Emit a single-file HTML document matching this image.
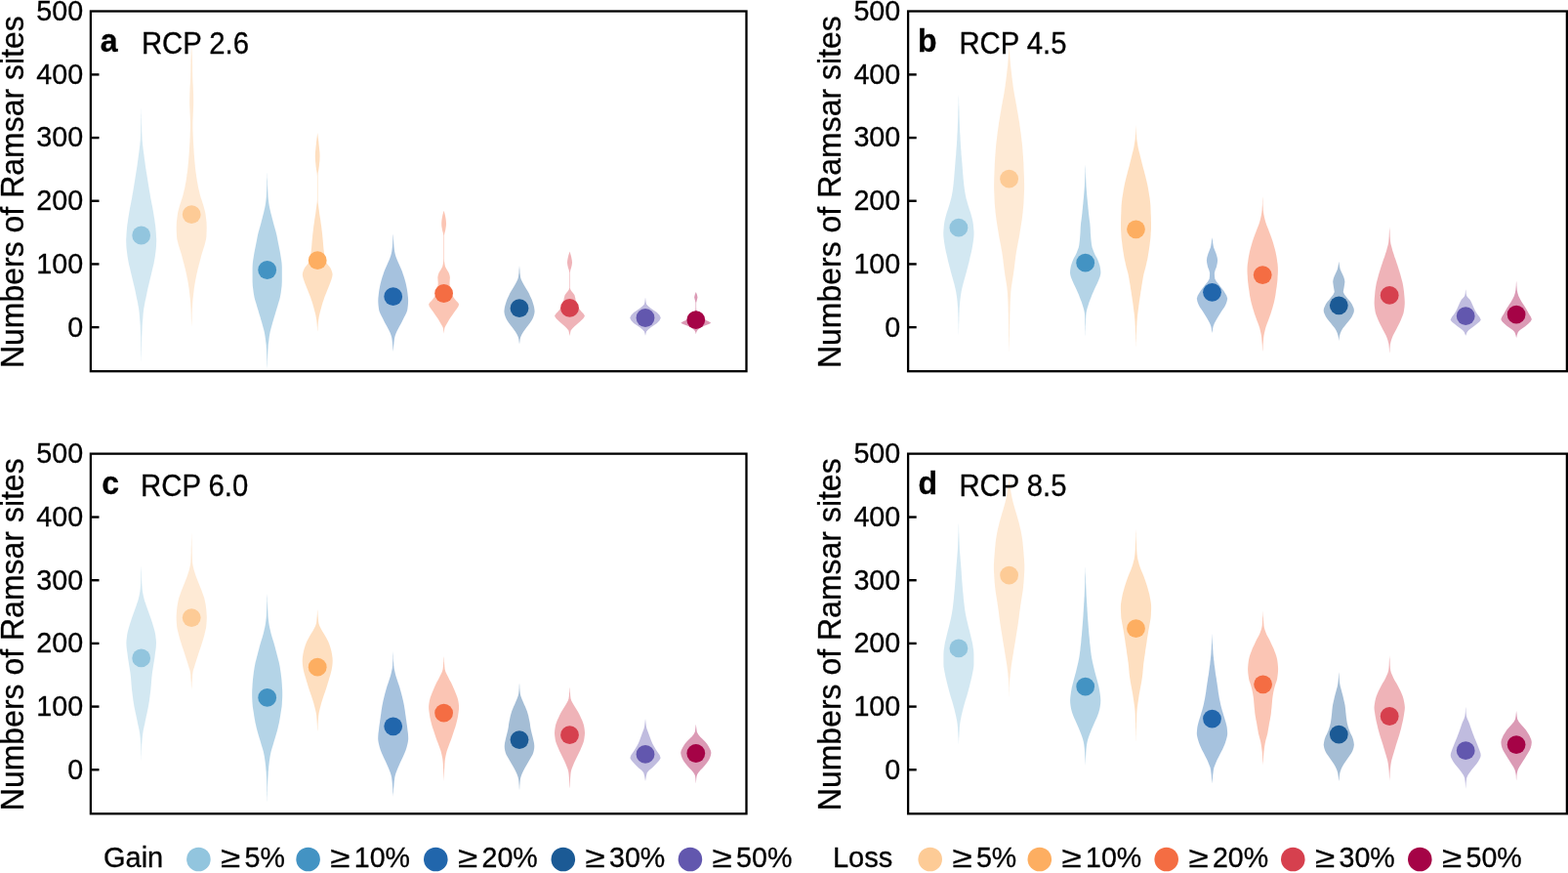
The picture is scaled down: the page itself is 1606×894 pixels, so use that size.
<!DOCTYPE html>
<html lang="en"><head><meta charset="utf-8">
<title>Numbers of Ramsar sites under RCP scenarios</title>
<style>
html,body{margin:0;padding:0;background:#fff;}
body{width:1606px;height:894px;overflow:hidden;}
svg{display:block;}
text{font-family:'Liberation Sans', Arial, Helvetica, sans-serif;fill:#000;stroke:#000;stroke-width:0.3px;}
.tk{font-size:29px;text-anchor:end;}
.yl{font-size:32px;text-anchor:middle;}
.pl{font-size:32px;font-weight:bold;}
.pt{font-size:29px;}
.lg{font-size:29px;}
.fr{fill:none;stroke:#000;stroke-width:2.3;stroke-linejoin:miter;}
.tm{stroke:#000;stroke-width:2.4;stroke-linecap:butt;}
</style></head><body>
<svg width="1606" height="894" viewBox="0 0 1606 894">
<rect x="0" y="0" width="1606" height="894" fill="#fff"/>
<g id="panel-a">
<path d="M144.7,110.5 L144.8,113 L144.8,115.5 L144.9,118 L144.9,120.6 L145,123.1 L145,125.6 L145.1,128.1 L145.2,130.6 L145.2,133.1 L145.3,135.7 L145.4,138.2 L145.5,140.7 L145.6,143.2 L145.9,145.7 L146.1,148.2 L146.4,150.8 L146.7,153.3 L147,155.8 L147.4,158.3 L147.7,160.8 L148,163.3 L148.4,165.8 L148.7,168.3 L149.1,170.9 L149.5,173.4 L149.9,175.9 L150.3,178.4 L150.7,180.9 L151.1,183.4 L151.5,185.9 L151.9,188.4 L152.3,190.9 L152.7,193.5 L153.1,196 L153.6,198.5 L154,201 L154.4,203.4 L154.9,205.8 L155.3,208.1 L155.8,210.5 L156.3,212.9 L156.7,215.2 L157.1,217.6 L157.5,220 L157.9,222.5 L158.3,225 L158.6,227.5 L159,230 L159.3,232.5 L159.5,235 L159.7,237.4 L159.9,239.8 L160,242.2 L160.2,244.6 L160.2,247 L160.1,249.5 L160,252 L159.8,254.5 L159.5,257 L159.2,259.5 L158.9,262 L158.5,264.6 L158,267.3 L157.5,269.9 L156.9,272.6 L156.2,275.2 L155.6,277.9 L155,280.5 L154.4,283 L153.8,285.6 L153.2,288.1 L152.6,290.6 L152,293.1 L151.4,295.6 L150.8,298.2 L150.3,300.7 L149.8,303.2 L149.3,305.7 L148.7,308.2 L148.2,310.8 L147.8,313.3 L147.3,315.8 L147,318.3 L146.7,320.8 L146.5,323.3 L146.3,325.9 L146.1,328.4 L145.9,330.9 L145.7,333.4 L145.6,335.9 L145.5,338.5 L145.4,341 L145.3,343.5 L145.2,346 L145.2,348.5 L145.1,351 L145.1,353.5 L145,356 L145,358.5 L144.9,361 L144.9,363.5 L144.8,366 L144.8,368.5 L144.7,371 L144.7,371 L144.6,368.5 L144.6,366 L144.5,363.5 L144.5,361 L144.4,358.5 L144.4,356 L144.3,353.5 L144.3,351 L144.2,348.5 L144.2,346 L144.1,343.5 L144,341 L143.9,338.5 L143.8,335.9 L143.7,333.4 L143.5,330.9 L143.3,328.4 L143.1,325.9 L142.9,323.3 L142.7,320.8 L142.4,318.3 L142.1,315.8 L141.6,313.3 L141.2,310.8 L140.7,308.2 L140.1,305.7 L139.6,303.2 L139.1,300.7 L138.6,298.2 L138,295.6 L137.4,293.1 L136.8,290.6 L136.2,288.1 L135.6,285.6 L135,283 L134.4,280.5 L133.8,277.9 L133.2,275.2 L132.5,272.6 L131.9,269.9 L131.4,267.3 L130.9,264.6 L130.5,262 L130.2,259.5 L129.9,257 L129.6,254.5 L129.4,252 L129.3,249.5 L129.2,247 L129.2,244.6 L129.4,242.2 L129.5,239.8 L129.7,237.4 L129.9,235 L130.1,232.5 L130.4,230 L130.8,227.5 L131.1,225 L131.5,222.5 L131.9,220 L132.3,217.6 L132.7,215.2 L133.1,212.9 L133.6,210.5 L134.1,208.1 L134.5,205.8 L135,203.4 L135.4,201 L135.8,198.5 L136.3,196 L136.7,193.5 L137.1,190.9 L137.5,188.4 L137.9,185.9 L138.3,183.4 L138.7,180.9 L139.1,178.4 L139.5,175.9 L139.9,173.4 L140.3,170.9 L140.7,168.3 L141,165.8 L141.4,163.3 L141.7,160.8 L142,158.3 L142.4,155.8 L142.7,153.3 L143,150.8 L143.3,148.2 L143.5,145.7 L143.8,143.2 L143.9,140.7 L144,138.2 L144.1,135.7 L144.2,133.1 L144.2,130.6 L144.3,128.1 L144.4,125.6 L144.4,123.1 L144.5,120.6 L144.5,118 L144.6,115.5 L144.6,113 L144.7,110.5Z" fill="#92c5de" fill-opacity="0.4"/>
<path d="M196.2,46 L196.3,48.3 L196.5,50.7 L196.6,53 L196.7,55.3 L196.8,57.7 L196.9,60 L197,62.5 L197,65 L197.1,67.5 L197.1,70 L197.1,72.5 L197.2,75 L197.2,77.5 L197.3,80 L197.4,82.3 L197.5,84.7 L197.7,87 L197.8,89.3 L197.9,91.7 L198,94 L198.1,96.5 L198.1,99 L198.2,101.5 L198.2,104 L198.2,106.5 L198.1,109 L198,111.5 L197.9,114 L197.8,116.3 L197.7,118.7 L197.6,121 L197.5,123.3 L197.4,125.7 L197.4,128 L197.4,130.5 L197.5,133.1 L197.6,135.6 L197.7,138.2 L197.8,140.7 L197.9,143.2 L198,145.7 L198.2,148.2 L198.3,150.8 L198.5,153.3 L198.6,155.8 L198.8,158.3 L199,160.8 L199.2,163.3 L199.4,165.9 L199.7,168.4 L199.9,170.9 L200.2,173.4 L200.5,175.9 L200.9,178.5 L201.2,181 L201.6,183.4 L201.9,185.8 L202.4,188.1 L202.8,190.5 L203.3,192.9 L203.9,195.2 L204.4,197.6 L205,200 L205.7,202.5 L206.6,205 L207.4,207.5 L208.2,210 L208.9,212.5 L209.6,215 L210.2,217.5 L210.6,220 L210.9,222.4 L211.2,224.8 L211.5,227.2 L211.6,229.6 L211.7,232 L211.7,234.5 L211.6,237 L211.5,239.5 L211.4,242 L211.1,244.7 L210.5,247.3 L209.8,250 L209.1,252.5 L208.3,255 L207.5,257.5 L206.7,260 L206,262.6 L205.3,265.2 L204.6,267.9 L203.9,270.5 L203.3,273 L202.6,275.5 L202.1,278 L201.5,280.5 L201,283 L200.5,285.6 L200,288.1 L199.6,290.6 L199.2,293.1 L198.8,295.6 L198.5,298.2 L198.2,300.7 L197.9,303.2 L197.6,305.7 L197.4,308.2 L197.2,310.7 L197.1,313.1 L196.9,315.6 L196.8,318 L196.7,320.4 L196.6,322.9 L196.6,325.3 L196.5,327.7 L196.4,330.1 L196.3,332.6 L196.2,335 L196.2,335 L196.1,332.6 L196,330.1 L195.9,327.7 L195.8,325.3 L195.8,322.9 L195.7,320.4 L195.6,318 L195.5,315.6 L195.3,313.1 L195.2,310.7 L195,308.2 L194.8,305.7 L194.5,303.2 L194.2,300.7 L193.9,298.2 L193.6,295.6 L193.2,293.1 L192.8,290.6 L192.4,288.1 L191.9,285.6 L191.4,283 L190.9,280.5 L190.3,278 L189.8,275.5 L189.1,273 L188.5,270.5 L187.8,267.9 L187.1,265.2 L186.4,262.6 L185.7,260 L184.9,257.5 L184.1,255 L183.3,252.5 L182.6,250 L181.9,247.3 L181.3,244.7 L181,242 L180.9,239.5 L180.8,237 L180.7,234.5 L180.7,232 L180.8,229.6 L180.9,227.2 L181.2,224.8 L181.5,222.4 L181.8,220 L182.2,217.5 L182.8,215 L183.5,212.5 L184.2,210 L185,207.5 L185.8,205 L186.7,202.5 L187.4,200 L188,197.6 L188.5,195.2 L189.1,192.9 L189.6,190.5 L190,188.1 L190.5,185.8 L190.8,183.4 L191.2,181 L191.5,178.5 L191.9,175.9 L192.2,173.4 L192.5,170.9 L192.7,168.4 L193,165.9 L193.2,163.3 L193.4,160.8 L193.6,158.3 L193.8,155.8 L193.9,153.3 L194.1,150.8 L194.2,148.2 L194.4,145.7 L194.5,143.2 L194.6,140.7 L194.7,138.2 L194.8,135.6 L194.9,133.1 L195,130.5 L195,128 L195,125.7 L194.9,123.3 L194.8,121 L194.7,118.7 L194.6,116.3 L194.5,114 L194.4,111.5 L194.3,109 L194.2,106.5 L194.2,104 L194.2,101.5 L194.3,99 L194.3,96.5 L194.4,94 L194.5,91.7 L194.6,89.3 L194.7,87 L194.9,84.7 L195,82.3 L195.1,80 L195.2,77.5 L195.2,75 L195.3,72.5 L195.3,70 L195.3,67.5 L195.4,65 L195.4,62.5 L195.5,60 L195.6,57.7 L195.7,55.3 L195.8,53 L195.9,50.7 L196.1,48.3 L196.2,46Z" fill="#fdcb96" fill-opacity="0.4"/>
<path d="M273.7,176.4 L273.8,178.8 L273.8,181.2 L273.9,183.6 L274,186 L274,188.4 L274.1,190.9 L274.2,193.3 L274.3,195.7 L274.4,198.1 L274.5,200.5 L274.7,203 L275,205.6 L275.3,208.1 L275.7,210.6 L276.2,213.1 L276.8,215.6 L277.4,218.2 L278.1,220.7 L278.7,223.2 L279.4,225.7 L280,228.2 L280.7,230.7 L281.4,233.2 L282.1,235.8 L282.8,238.3 L283.4,240.8 L283.9,243.3 L284.4,245.9 L284.9,248.4 L285.4,250.9 L285.9,253.4 L286.4,255.9 L286.9,258.4 L287.3,260.9 L287.7,263.5 L288.1,266.1 L288.5,268.8 L288.7,271.4 L288.8,274 L288.8,276.3 L288.8,278.7 L288.8,281 L288.8,283.3 L288.8,285.7 L288.8,288 L288.7,290.3 L288.6,292.7 L288.3,295 L288,297.3 L287.7,299.7 L287.3,302 L286.9,304.3 L286.3,306.7 L285.6,309 L284.9,311.3 L284.2,313.7 L283.5,316 L282.8,318.3 L282.1,320.7 L281.4,323 L280.7,325.3 L280,327.7 L279.3,330 L278.7,332.3 L278,334.7 L277.4,337 L276.8,339.3 L276.3,341.7 L275.9,344 L275.6,346.3 L275.3,348.7 L275,351 L274.7,353.3 L274.6,355.7 L274.4,358 L274.3,360.4 L274.2,362.9 L274.1,365.3 L274,367.8 L273.9,370.2 L273.9,372.6 L273.8,375.1 L273.7,377.5 L273.7,377.5 L273.6,375.1 L273.5,372.6 L273.5,370.2 L273.4,367.8 L273.3,365.3 L273.2,362.9 L273.1,360.4 L273,358 L272.8,355.7 L272.7,353.3 L272.4,351 L272.1,348.7 L271.8,346.3 L271.5,344 L271.1,341.7 L270.6,339.3 L270,337 L269.4,334.7 L268.7,332.3 L268.1,330 L267.4,327.7 L266.7,325.3 L266,323 L265.3,320.7 L264.6,318.3 L263.9,316 L263.2,313.7 L262.5,311.3 L261.8,309 L261.1,306.7 L260.5,304.3 L260.1,302 L259.7,299.7 L259.4,297.3 L259.1,295 L258.8,292.7 L258.7,290.3 L258.6,288 L258.6,285.7 L258.6,283.3 L258.6,281 L258.6,278.7 L258.6,276.3 L258.6,274 L258.7,271.4 L258.9,268.8 L259.3,266.1 L259.7,263.5 L260.1,260.9 L260.5,258.4 L261,255.9 L261.5,253.4 L262,250.9 L262.5,248.4 L263,245.9 L263.5,243.3 L264,240.8 L264.6,238.3 L265.3,235.8 L266,233.2 L266.7,230.7 L267.4,228.2 L268,225.7 L268.7,223.2 L269.3,220.7 L270,218.2 L270.6,215.6 L271.2,213.1 L271.7,210.6 L272.1,208.1 L272.4,205.6 L272.7,203 L272.9,200.5 L273,198.1 L273.1,195.7 L273.2,193.3 L273.3,190.9 L273.4,188.4 L273.4,186 L273.5,183.6 L273.6,181.2 L273.6,178.8 L273.7,176.4Z" fill="#4393c3" fill-opacity="0.4"/>
<path d="M325.2,136 L325.5,138.4 L325.8,140.8 L326.1,143.2 L326.4,145.6 L326.6,148 L326.9,150.5 L327.1,152.9 L327.4,155.4 L327.5,157.8 L327.6,160.3 L327.5,162.6 L327.4,165 L327.1,167.3 L326.9,169.7 L326.6,172 L326.2,174.7 L325.7,177.3 L325.5,180 L325.5,182.5 L325.5,185 L325.5,187.5 L325.5,190 L325.5,192.5 L325.5,195 L325.5,197.5 L325.5,200 L325.5,202.5 L325.5,205 L325.7,207.8 L326.1,210.6 L326.4,213.1 L326.8,215.6 L327.1,218.2 L327.5,220.7 L327.9,223.2 L328.3,225.7 L328.6,228.2 L329,230.7 L329.3,233.2 L329.6,235.8 L329.9,238.3 L330.2,240.8 L330.4,243.3 L330.7,245.9 L330.9,248.4 L331.1,250.9 L331.3,253.4 L331.6,255.9 L331.9,258.5 L332.2,261 L332.7,263.7 L333.3,266.3 L334.2,269 L336.1,271.5 L338.2,274 L339.3,276.3 L340.2,278.7 L340.6,281 L340.3,283.3 L339.6,285.7 L338.8,288 L338,290.3 L337,292.7 L336.1,295 L335.2,297.3 L334.2,299.7 L333.3,302 L332.4,304.3 L331.6,306.7 L330.8,309 L330.1,311.3 L329.4,313.7 L328.8,316 L328.2,318.3 L327.5,320.7 L327,323 L326.6,325.3 L326.2,327.7 L325.9,330 L325.7,332.4 L325.5,334.9 L325.4,337.3 L325.2,339.7 L325.2,339.7 L325,337.3 L324.9,334.9 L324.7,332.4 L324.5,330 L324.2,327.7 L323.8,325.3 L323.4,323 L322.9,320.7 L322.2,318.3 L321.6,316 L321,313.7 L320.3,311.3 L319.6,309 L318.8,306.7 L318,304.3 L317.1,302 L316.2,299.7 L315.2,297.3 L314.3,295 L313.4,292.7 L312.4,290.3 L311.6,288 L310.8,285.7 L310.1,283.3 L309.8,281 L310.2,278.7 L311.1,276.3 L312.2,274 L314.3,271.5 L316.2,269 L317.1,266.3 L317.7,263.7 L318.2,261 L318.5,258.5 L318.8,255.9 L319.1,253.4 L319.3,250.9 L319.5,248.4 L319.7,245.9 L320,243.3 L320.2,240.8 L320.5,238.3 L320.8,235.8 L321.1,233.2 L321.4,230.7 L321.8,228.2 L322.1,225.7 L322.5,223.2 L322.9,220.7 L323.3,218.2 L323.6,215.6 L324,213.1 L324.3,210.6 L324.7,207.8 L324.9,205 L324.9,202.5 L324.9,200 L324.9,197.5 L324.9,195 L324.9,192.5 L324.9,190 L324.9,187.5 L324.9,185 L324.9,182.5 L324.9,180 L324.7,177.3 L324.2,174.7 L323.8,172 L323.5,169.7 L323.3,167.3 L323,165 L322.9,162.6 L322.8,160.3 L322.9,157.8 L323,155.4 L323.3,152.9 L323.5,150.5 L323.8,148 L324,145.6 L324.3,143.2 L324.6,140.8 L324.9,138.4 L325.2,136Z" fill="#fdae61" fill-opacity="0.4"/>
<path d="M402.7,239.5 L402.9,242.1 L403,244.7 L403.2,247.2 L403.3,249.8 L403.5,252.4 L403.8,255 L404.1,257.3 L404.6,259.7 L405.2,262 L406,264.3 L407,266.7 L408,269 L409,271.3 L410.1,273.7 L411.1,276 L412,278.3 L412.8,280.7 L413.6,283 L414.3,285.3 L415,287.7 L415.6,290 L416.1,292.3 L416.6,294.7 L417,297 L417.4,299.8 L417.7,302.5 L418,305.2 L418.1,308 L418,310.5 L417.8,313 L417.5,315.5 L417.1,318 L416.3,320.3 L415.1,322.7 L413.9,325 L412.8,327.3 L411.6,329.7 L410.4,332 L409.1,334.3 L407.8,336.7 L406.6,339 L405.6,341.3 L404.7,343.7 L404.1,346 L403.8,348.3 L403.5,350.7 L403.3,353 L403.1,355.3 L402.9,357.7 L402.7,360 L402.7,360 L402.5,357.7 L402.3,355.3 L402.1,353 L401.9,350.7 L401.6,348.3 L401.3,346 L400.7,343.7 L399.8,341.3 L398.8,339 L397.6,336.7 L396.3,334.3 L395,332 L393.8,329.7 L392.6,327.3 L391.5,325 L390.3,322.7 L389.1,320.3 L388.3,318 L387.9,315.5 L387.6,313 L387.4,310.5 L387.3,308 L387.4,305.2 L387.7,302.5 L388,299.8 L388.4,297 L388.8,294.7 L389.3,292.3 L389.8,290 L390.4,287.7 L391.1,285.3 L391.8,283 L392.6,280.7 L393.4,278.3 L394.3,276 L395.3,273.7 L396.4,271.3 L397.4,269 L398.4,266.7 L399.4,264.3 L400.2,262 L400.8,259.7 L401.3,257.3 L401.6,255 L401.9,252.4 L402.1,249.8 L402.2,247.2 L402.4,244.7 L402.5,242.1 L402.7,239.5Z" fill="#2166ac" fill-opacity="0.4"/>
<path d="M454.6,215.7 L455.2,217.8 L455.8,219.9 L456.2,222 L456.6,224.3 L456.9,226.7 L457,229 L456.9,231.3 L456.5,233.7 L456.1,236 L455.4,238.5 L454.9,241 L454.9,243.4 L454.9,245.8 L454.9,248.1 L454.9,250.5 L454.9,252.9 L454.9,255.3 L454.9,257.7 L454.9,260 L454.9,262.4 L454.9,264.8 L455,267.5 L455.4,270.3 L456,273 L457.6,276 L459.5,279 L460.4,281.5 L460.9,284 L460.7,287 L460.5,290 L460.7,293 L461.1,296 L461.7,298.3 L462.5,300.7 L463.6,303 L465.2,305.5 L467.2,308 L469,309.8 L470.1,311.6 L469.5,313.7 L468,315.9 L466.5,318 L464.9,320.3 L463.2,322.7 L461.6,325 L460.1,327.3 L458.7,329.7 L457.4,332 L456.2,334 L455.3,336 L454.9,338.9 L454.6,341.7 L454.6,341.7 L454.3,338.9 L453.9,336 L453,334 L451.8,332 L450.5,329.7 L449.1,327.3 L447.6,325 L446,322.7 L444.3,320.3 L442.7,318 L441.2,315.9 L439.7,313.7 L439.1,311.6 L440.2,309.8 L442,308 L444,305.5 L445.6,303 L446.7,300.7 L447.5,298.3 L448.1,296 L448.5,293 L448.7,290 L448.5,287 L448.3,284 L448.8,281.5 L449.7,279 L451.6,276 L453.2,273 L453.8,270.3 L454.2,267.5 L454.3,264.8 L454.3,262.4 L454.3,260 L454.3,257.7 L454.3,255.3 L454.3,252.9 L454.3,250.5 L454.3,248.1 L454.3,245.8 L454.3,243.4 L454.3,241 L453.8,238.5 L453.1,236 L452.7,233.7 L452.3,231.3 L452.2,229 L452.3,226.7 L452.6,224.3 L453,222 L453.4,219.9 L454,217.8 L454.6,215.7Z" fill="#f46d43" fill-opacity="0.4"/>
<path d="M532,272 L532.2,274.4 L532.4,276.8 L532.5,279.2 L532.8,281.6 L533.1,284 L533.8,286.3 L535,288.7 L536.2,291 L537.5,293.3 L539,295.7 L540.4,298 L541.7,300.3 L542.8,302.7 L543.9,305 L544.9,307.3 L545.7,309.7 L546.4,312 L547,314.3 L547.4,316.7 L547.6,319 L547.3,321.3 L546.6,323.7 L545.7,326 L544.5,328.3 L542.8,330.7 L541.1,333 L539.3,335.3 L537.5,337.7 L535.9,340 L534.3,342.8 L533.1,345.5 L532.6,347.8 L532.3,350.2 L532,352.5 L532,352.5 L531.7,350.2 L531.4,347.8 L530.9,345.5 L529.7,342.8 L528.1,340 L526.5,337.7 L524.7,335.3 L522.9,333 L521.2,330.7 L519.5,328.3 L518.3,326 L517.4,323.7 L516.7,321.3 L516.4,319 L516.6,316.7 L517,314.3 L517.6,312 L518.3,309.7 L519.1,307.3 L520.1,305 L521.2,302.7 L522.3,300.3 L523.6,298 L525,295.7 L526.5,293.3 L527.8,291 L529,288.7 L530.2,286.3 L530.9,284 L531.2,281.6 L531.5,279.2 L531.6,276.8 L531.8,274.4 L532,272Z" fill="#1b5a95" fill-opacity="0.4"/>
<path d="M583.5,257.4 L584.1,259.6 L584.8,261.8 L585.3,264 L585.8,266.5 L586,269 L585.7,271.5 L585.1,274 L584.3,276.5 L583.8,279 L583.8,281.7 L583.8,284.3 L583.8,287 L583.8,289.7 L583.8,292.3 L583.8,295 L584.3,296.5 L585.2,298 L586.9,300 L588.4,302 L589.2,305 L589.8,308 L590.8,311 L592,314 L593.5,316.5 L595.4,319 L597.6,321.2 L599,323.4 L597.5,326 L594.7,328.7 L591.6,331.5 L588.4,334.3 L586.2,336.4 L584.6,338.5 L584,341.2 L583.5,344 L583.5,344 L583,341.2 L582.4,338.5 L580.8,336.4 L578.6,334.3 L575.4,331.5 L572.3,328.7 L569.5,326 L568,323.4 L569.4,321.2 L571.6,319 L573.5,316.5 L575,314 L576.2,311 L577.2,308 L577.8,305 L578.6,302 L580.1,300 L581.8,298 L582.7,296.5 L583.2,295 L583.2,292.3 L583.2,289.7 L583.2,287 L583.2,284.3 L583.2,281.7 L583.2,279 L582.7,276.5 L581.9,274 L581.3,271.5 L581,269 L581.2,266.5 L581.7,264 L582.2,261.8 L582.9,259.6 L583.5,257.4Z" fill="#d6404e" fill-opacity="0.4"/>
<path d="M661,304.5 L661.3,306.8 L661.6,309.2 L662.1,311.5 L663.9,313.6 L666.6,315.7 L669.9,317.9 L672.9,320 L675.5,322.8 L676.8,325.5 L675.5,328.2 L672.9,331 L669.9,333.1 L666.6,335.3 L663.9,337.4 L662.1,339.5 L661.5,341.6 L661,343.7 L661,343.7 L660.5,341.6 L659.9,339.5 L658.1,337.4 L655.4,335.3 L652.1,333.1 L649.1,331 L646.5,328.2 L645.2,325.5 L646.5,322.8 L649.1,320 L652.1,317.9 L655.4,315.7 L658.1,313.6 L659.9,311.5 L660.4,309.2 L660.7,306.8 L661,304.5Z" fill="#6257ae" fill-opacity="0.4"/>
<path d="M712.8,299 L713.9,301.8 L714.5,304.5 L713.8,307.2 L713.1,310 L713.1,312.3 L713.1,314.7 L713.2,317 L713.8,318.5 L714.8,320 L716.2,322 L717.8,324 L719.6,325.8 L721.8,327.5 L725.6,329.1 L728.3,330.7 L725.8,332.1 L721.8,333.5 L719.1,334.8 L716.8,336 L715,337.5 L713.8,339 L713.2,340.6 L712.8,342.3 L712.8,342.3 L712.4,340.6 L711.8,339 L710.6,337.5 L708.8,336 L706.5,334.8 L703.8,333.5 L699.8,332.1 L697.3,330.7 L700,329.1 L703.8,327.5 L706,325.8 L707.8,324 L709.4,322 L710.8,320 L711.8,318.5 L712.4,317 L712.5,314.7 L712.5,312.3 L712.5,310 L711.8,307.2 L711.1,304.5 L711.7,301.8 L712.8,299Z" fill="#a50346" fill-opacity="0.4"/>
<circle cx="144.7" cy="241" r="9.4" fill="#92c5de"/>
<circle cx="196.2" cy="219.7" r="9.4" fill="#fdcb96"/>
<circle cx="273.7" cy="276.5" r="9.4" fill="#4393c3"/>
<circle cx="325.2" cy="266.7" r="9.4" fill="#fdae61"/>
<circle cx="402.7" cy="303.7" r="9.4" fill="#2166ac"/>
<circle cx="454.6" cy="300.5" r="9.4" fill="#f46d43"/>
<circle cx="532" cy="315.7" r="9.4" fill="#1b5a95"/>
<circle cx="583.5" cy="315.4" r="9.4" fill="#d6404e"/>
<circle cx="661" cy="325.5" r="9.4" fill="#6257ae"/>
<circle cx="712.8" cy="327.6" r="9.4" fill="#a50346"/>
<rect class="fr" x="92.9" y="11.5" width="671.6" height="368.7"/>
<line class="tm" x1="92.9" y1="335.12" x2="101.5" y2="335.12"/>
<line class="tm" x1="92.9" y1="270.44" x2="101.5" y2="270.44"/>
<line class="tm" x1="92.9" y1="205.75" x2="101.5" y2="205.75"/>
<line class="tm" x1="92.9" y1="141.07" x2="101.5" y2="141.07"/>
<line class="tm" x1="92.9" y1="76.38" x2="101.5" y2="76.38"/>
<text class="tk" transform="translate(85.1 344.52) scale(0.99 1.04)">0</text>
<text class="tk" transform="translate(85.1 279.84) scale(0.99 1.04)">100</text>
<text class="tk" transform="translate(85.1 215.15) scale(0.99 1.04)">200</text>
<text class="tk" transform="translate(85.1 150.47) scale(0.99 1.04)">300</text>
<text class="tk" transform="translate(85.1 85.78) scale(0.99 1.04)">400</text>
<text class="tk" transform="translate(85.1 21.1) scale(0.99 1.04)">500</text>
<text class="yl" transform="translate(23.8 196.65) rotate(-90) scale(1 1.05)">Numbers of Ramsar sites</text>
<text class="pl" transform="translate(102.7 53.3) scale(1 1.04)">a</text>
<text class="pt" transform="translate(144.9 55.1) scale(1.01 1.07)">RCP 2.6</text>
</g>
<g id="panel-b">
<path d="M981.9,97 L982,99.6 L982.1,102.2 L982.1,104.8 L982.2,107.4 L982.3,110 L982.4,112.6 L982.5,115.1 L982.5,117.7 L982.6,120.3 L982.7,122.9 L982.8,125.5 L982.9,128.1 L983,130.7 L983.1,133.2 L983.2,135.7 L983.4,138.2 L983.5,140.8 L983.6,143.3 L983.8,145.8 L983.9,148.3 L984.1,150.8 L984.3,153.3 L984.5,155.9 L984.6,158.4 L984.9,160.9 L985.1,163.4 L985.3,165.9 L985.5,168.5 L985.7,171 L985.9,173.5 L986.1,176 L986.3,178.5 L986.5,181 L986.7,183.5 L987,186 L987.2,188.5 L987.5,191 L987.8,193.2 L988.1,195.5 L988.5,197.8 L988.9,200 L989.4,202.5 L990.1,205 L990.8,207.5 L991.5,210 L992.3,212.5 L993.1,215 L994,217.5 L994.7,220 L995.4,222.5 L996,225 L996.5,227.5 L996.9,230 L997.1,232.5 L997.3,235 L997.5,237.5 L997.5,240 L997.4,242.5 L997.1,245 L996.8,247.5 L996.4,250 L996,252.5 L995.5,255 L995,257.5 L994.4,260 L993.8,262.6 L993.2,265.2 L992.6,267.9 L991.9,270.5 L991.3,273 L990.6,275.5 L990,278 L989.3,280.5 L988.6,283 L987.9,285.6 L987.2,288.1 L986.5,290.6 L985.9,293.1 L985.3,295.6 L984.7,298.2 L984.3,300.7 L983.9,303.2 L983.6,305.7 L983.3,308.2 L983.1,310.7 L982.9,313.2 L982.7,315.8 L982.6,318.3 L982.5,320.8 L982.4,323.3 L982.3,325.7 L982.3,328.2 L982.2,330.7 L982.1,333.1 L982.1,335.6 L982,338.1 L982,340.5 L981.9,343 L981.9,343 L981.8,340.5 L981.8,338.1 L981.7,335.6 L981.7,333.1 L981.6,330.7 L981.5,328.2 L981.5,325.7 L981.4,323.3 L981.3,320.8 L981.2,318.3 L981.1,315.8 L980.9,313.2 L980.7,310.7 L980.5,308.2 L980.2,305.7 L979.9,303.2 L979.5,300.7 L979.1,298.2 L978.5,295.6 L977.9,293.1 L977.3,290.6 L976.6,288.1 L975.9,285.6 L975.2,283 L974.5,280.5 L973.8,278 L973.2,275.5 L972.5,273 L971.9,270.5 L971.2,267.9 L970.6,265.2 L970,262.6 L969.4,260 L968.8,257.5 L968.3,255 L967.8,252.5 L967.4,250 L967,247.5 L966.7,245 L966.4,242.5 L966.3,240 L966.3,237.5 L966.5,235 L966.7,232.5 L966.9,230 L967.3,227.5 L967.8,225 L968.4,222.5 L969.1,220 L969.8,217.5 L970.7,215 L971.5,212.5 L972.3,210 L973,207.5 L973.7,205 L974.4,202.5 L974.9,200 L975.3,197.8 L975.7,195.5 L976,193.2 L976.3,191 L976.6,188.5 L976.8,186 L977.1,183.5 L977.3,181 L977.5,178.5 L977.7,176 L977.9,173.5 L978.1,171 L978.3,168.5 L978.5,165.9 L978.7,163.4 L978.9,160.9 L979.2,158.4 L979.3,155.9 L979.5,153.3 L979.7,150.8 L979.9,148.3 L980,145.8 L980.2,143.3 L980.3,140.8 L980.4,138.2 L980.6,135.7 L980.7,133.2 L980.8,130.7 L980.9,128.1 L981,125.5 L981.1,122.9 L981.2,120.3 L981.3,117.7 L981.3,115.1 L981.4,112.6 L981.5,110 L981.6,107.4 L981.7,104.8 L981.7,102.2 L981.8,99.6 L981.9,97Z" fill="#92c5de" fill-opacity="0.4"/>
<path d="M1033.6,44 L1033.7,46.7 L1033.9,49.3 L1034,52 L1034.2,54.7 L1034.3,57.3 L1034.5,60 L1034.7,62.5 L1034.9,65 L1035.1,67.5 L1035.4,70 L1035.7,72.5 L1036,75.1 L1036.3,77.7 L1036.6,80.2 L1036.9,82.8 L1037.3,85.3 L1037.6,87.9 L1038,90.4 L1038.4,92.9 L1038.8,95.4 L1039.2,97.9 L1039.7,100.5 L1040.2,103 L1040.6,105.5 L1041.1,108 L1041.5,110.5 L1041.9,113 L1042.4,115.5 L1042.8,118.1 L1043.2,120.6 L1043.6,123.1 L1044.1,125.6 L1044.4,128.2 L1044.8,130.7 L1045.1,133.2 L1045.5,135.7 L1045.8,138.2 L1046.1,140.8 L1046.4,143.3 L1046.7,145.8 L1047,148.3 L1047.2,150.8 L1047.4,153.3 L1047.6,155.9 L1047.8,158.4 L1048,160.9 L1048.1,163.4 L1048.3,165.9 L1048.4,168.5 L1048.5,171 L1048.6,173.5 L1048.7,176 L1048.8,178.5 L1048.9,181 L1049,183.5 L1049,186 L1049.1,188.5 L1049.1,191 L1049.1,193.3 L1049,195.7 L1048.9,198 L1048.8,200.3 L1048.7,202.7 L1048.6,205 L1048.5,207.5 L1048.3,210 L1048.1,212.5 L1047.8,215 L1047.6,217.5 L1047.3,220 L1047,222.5 L1046.7,225 L1046.3,227.5 L1045.9,230 L1045.5,232.5 L1045.1,235 L1044.7,237.5 L1044.3,240 L1043.9,242.6 L1043.4,245.1 L1042.9,247.6 L1042.4,250.2 L1041.9,252.8 L1041.5,255.3 L1041,257.8 L1040.6,260.4 L1040.2,262.9 L1039.9,265.4 L1039.6,267.9 L1039.3,270.4 L1039,273 L1038.7,275.5 L1038.3,278 L1038,280.5 L1037.6,283 L1037.2,285.6 L1036.8,288.1 L1036.4,290.6 L1036,293.1 L1035.7,295.6 L1035.4,298.2 L1035.2,300.7 L1035.1,303.2 L1034.9,305.7 L1034.8,308.2 L1034.7,310.8 L1034.6,313.3 L1034.5,315.8 L1034.5,318.3 L1034.4,320.8 L1034.3,323.3 L1034.3,325.9 L1034.2,328.4 L1034.2,330.9 L1034.1,333.4 L1034.1,335.9 L1034,338.5 L1034,341 L1034,343.5 L1033.9,346 L1033.9,348.5 L1033.8,351 L1033.8,353.5 L1033.7,356 L1033.7,358.5 L1033.6,361 L1033.6,361 L1033.5,358.5 L1033.5,356 L1033.4,353.5 L1033.4,351 L1033.3,348.5 L1033.3,346 L1033.2,343.5 L1033.2,341 L1033.2,338.5 L1033.1,335.9 L1033.1,333.4 L1033,330.9 L1033,328.4 L1032.9,325.9 L1032.9,323.3 L1032.8,320.8 L1032.7,318.3 L1032.7,315.8 L1032.6,313.3 L1032.5,310.8 L1032.4,308.2 L1032.3,305.7 L1032.1,303.2 L1032,300.7 L1031.8,298.2 L1031.5,295.6 L1031.2,293.1 L1030.8,290.6 L1030.4,288.1 L1030,285.6 L1029.6,283 L1029.2,280.5 L1028.9,278 L1028.5,275.5 L1028.2,273 L1027.9,270.4 L1027.6,267.9 L1027.3,265.4 L1027,262.9 L1026.6,260.4 L1026.2,257.8 L1025.7,255.3 L1025.3,252.8 L1024.8,250.2 L1024.3,247.6 L1023.8,245.1 L1023.3,242.6 L1022.9,240 L1022.5,237.5 L1022.1,235 L1021.7,232.5 L1021.3,230 L1020.9,227.5 L1020.5,225 L1020.2,222.5 L1019.9,220 L1019.6,217.5 L1019.4,215 L1019.1,212.5 L1018.9,210 L1018.7,207.5 L1018.6,205 L1018.5,202.7 L1018.4,200.3 L1018.3,198 L1018.2,195.7 L1018.1,193.3 L1018.1,191 L1018.1,188.5 L1018.2,186 L1018.2,183.5 L1018.3,181 L1018.4,178.5 L1018.5,176 L1018.6,173.5 L1018.7,171 L1018.8,168.5 L1018.9,165.9 L1019.1,163.4 L1019.2,160.9 L1019.4,158.4 L1019.6,155.9 L1019.8,153.3 L1020,150.8 L1020.2,148.3 L1020.5,145.8 L1020.8,143.3 L1021.1,140.8 L1021.4,138.2 L1021.7,135.7 L1022.1,133.2 L1022.4,130.7 L1022.8,128.2 L1023.1,125.6 L1023.6,123.1 L1024,120.6 L1024.4,118.1 L1024.8,115.5 L1025.3,113 L1025.7,110.5 L1026.1,108 L1026.6,105.5 L1027,103 L1027.5,100.5 L1028,97.9 L1028.4,95.4 L1028.8,92.9 L1029.2,90.4 L1029.6,87.9 L1029.9,85.3 L1030.3,82.8 L1030.6,80.2 L1030.9,77.7 L1031.2,75.1 L1031.5,72.5 L1031.8,70 L1032.1,67.5 L1032.3,65 L1032.5,62.5 L1032.7,60 L1032.9,57.3 L1033,54.7 L1033.2,52 L1033.3,49.3 L1033.5,46.7 L1033.6,44Z" fill="#fdcb96" fill-opacity="0.4"/>
<path d="M1111.7,168.4 L1111.8,170.9 L1111.9,173.3 L1111.9,175.8 L1112,178.2 L1112.1,180.7 L1112.2,183.1 L1112.3,185.6 L1112.4,188 L1112.5,190.5 L1112.7,193 L1112.9,195.6 L1113.1,198.1 L1113.3,200.6 L1113.5,203.1 L1113.8,205.6 L1114,208.2 L1114.3,210.7 L1114.5,213.2 L1114.8,215.7 L1115,218.2 L1115.3,220.7 L1115.6,223.2 L1115.9,225.8 L1116.3,228.3 L1116.5,230.8 L1116.7,233.3 L1116.8,235.9 L1116.9,238.4 L1117.1,240.9 L1117.3,243.4 L1117.5,245.9 L1117.8,248.5 L1118.1,251 L1118.7,253.7 L1119.7,256.3 L1120.7,259 L1122,261.7 L1123.5,264.3 L1124.7,267 L1125.7,269.7 L1126.5,272.3 L1127,275 L1127.3,277.2 L1127.4,279.5 L1127.1,281.6 L1126.5,283.7 L1125.7,285.8 L1124.8,288.1 L1123.7,290.5 L1122.6,292.8 L1121.5,295.1 L1120.4,297.5 L1119.4,299.8 L1118.4,302.1 L1117.5,304.4 L1116.6,306.7 L1115.7,309 L1114.9,311.4 L1114.2,313.7 L1113.5,316 L1112.9,318.4 L1112.5,320.7 L1112.3,323 L1112.2,325.2 L1112.1,327.5 L1112.1,329.7 L1112,332 L1111.9,334.5 L1111.9,337 L1111.8,339.5 L1111.8,342 L1111.7,344.5 L1111.7,344.5 L1111.6,342 L1111.6,339.5 L1111.5,337 L1111.5,334.5 L1111.4,332 L1111.3,329.7 L1111.3,327.5 L1111.2,325.2 L1111.1,323 L1110.9,320.7 L1110.5,318.4 L1109.9,316 L1109.2,313.7 L1108.5,311.4 L1107.7,309 L1106.8,306.7 L1105.9,304.4 L1105,302.1 L1104,299.8 L1103,297.5 L1101.9,295.1 L1100.8,292.8 L1099.7,290.5 L1098.6,288.1 L1097.7,285.8 L1096.9,283.7 L1096.3,281.6 L1096,279.5 L1096.1,277.2 L1096.4,275 L1096.9,272.3 L1097.7,269.7 L1098.7,267 L1099.9,264.3 L1101.4,261.7 L1102.7,259 L1103.7,256.3 L1104.7,253.7 L1105.3,251 L1105.6,248.5 L1105.9,245.9 L1106.1,243.4 L1106.3,240.9 L1106.5,238.4 L1106.6,235.9 L1106.7,233.3 L1106.9,230.8 L1107.1,228.3 L1107.5,225.8 L1107.8,223.2 L1108.1,220.7 L1108.4,218.2 L1108.6,215.7 L1108.9,213.2 L1109.1,210.7 L1109.4,208.2 L1109.6,205.6 L1109.9,203.1 L1110.1,200.6 L1110.3,198.1 L1110.5,195.6 L1110.7,193 L1110.9,190.5 L1111,188 L1111.1,185.6 L1111.2,183.1 L1111.3,180.7 L1111.4,178.2 L1111.5,175.8 L1111.5,173.3 L1111.6,170.9 L1111.7,168.4Z" fill="#4393c3" fill-opacity="0.4"/>
<path d="M1163.5,128 L1163.6,130.4 L1163.7,132.8 L1163.8,135.2 L1163.9,137.6 L1164.1,140 L1164.3,142.5 L1164.7,145 L1165.1,147.5 L1165.5,150 L1166,152.5 L1166.6,155 L1167.3,157.5 L1167.9,160 L1168.5,162.6 L1169.2,165.2 L1169.8,167.8 L1170.5,170.4 L1171.2,172.9 L1171.9,175.4 L1172.5,178 L1173.2,180.5 L1173.8,183 L1174.4,185.5 L1175,188 L1175.5,190.5 L1176,193 L1176.4,195.6 L1176.8,198.1 L1177.2,200.6 L1177.6,203.1 L1177.9,205.6 L1178.2,208.2 L1178.4,210.7 L1178.5,213.2 L1178.6,215.7 L1178.7,218.2 L1178.8,220.7 L1178.9,223.2 L1178.9,225.8 L1179,228.3 L1179,230.8 L1179,233.3 L1178.9,235.9 L1178.7,238.4 L1178.6,240.9 L1178.4,243.4 L1178.1,245.9 L1177.8,248.5 L1177.5,251 L1177.2,253.5 L1176.8,256 L1176.4,258.5 L1176,261 L1175.6,263.5 L1175.1,266 L1174.5,268.5 L1174,271 L1173.4,273.4 L1172.8,275.8 L1172.1,278.2 L1171.5,280.6 L1171,283 L1170.6,285.3 L1170.2,287.7 L1169.8,290 L1169.4,292.3 L1169.1,294.7 L1168.7,297 L1168.3,299.3 L1168,301.7 L1167.6,304 L1167.3,306.3 L1166.9,308.7 L1166.6,311 L1166.3,313.3 L1166,315.7 L1165.7,318 L1165.4,320.3 L1165.1,322.7 L1164.9,325 L1164.7,327.3 L1164.5,329.7 L1164.4,332 L1164.2,334.3 L1164.1,336.7 L1164,339 L1163.9,341.4 L1163.8,343.8 L1163.8,346.2 L1163.7,348.5 L1163.6,350.9 L1163.6,353.3 L1163.5,355.7 L1163.5,355.7 L1163.4,353.3 L1163.4,350.9 L1163.3,348.5 L1163.2,346.2 L1163.2,343.8 L1163.1,341.4 L1163,339 L1162.9,336.7 L1162.8,334.3 L1162.6,332 L1162.5,329.7 L1162.3,327.3 L1162.1,325 L1161.9,322.7 L1161.6,320.3 L1161.3,318 L1161,315.7 L1160.7,313.3 L1160.4,311 L1160.1,308.7 L1159.7,306.3 L1159.4,304 L1159,301.7 L1158.7,299.3 L1158.3,297 L1157.9,294.7 L1157.6,292.3 L1157.2,290 L1156.8,287.7 L1156.4,285.3 L1156,283 L1155.5,280.6 L1154.9,278.2 L1154.2,275.8 L1153.6,273.4 L1153,271 L1152.5,268.5 L1151.9,266 L1151.4,263.5 L1151,261 L1150.6,258.5 L1150.2,256 L1149.8,253.5 L1149.5,251 L1149.2,248.5 L1148.9,245.9 L1148.6,243.4 L1148.4,240.9 L1148.3,238.4 L1148.1,235.9 L1148,233.3 L1148,230.8 L1148,228.3 L1148.1,225.8 L1148.1,223.2 L1148.2,220.7 L1148.3,218.2 L1148.4,215.7 L1148.5,213.2 L1148.6,210.7 L1148.8,208.2 L1149.1,205.6 L1149.4,203.1 L1149.8,200.6 L1150.2,198.1 L1150.6,195.6 L1151,193 L1151.5,190.5 L1152,188 L1152.6,185.5 L1153.2,183 L1153.8,180.5 L1154.5,178 L1155.1,175.4 L1155.8,172.9 L1156.5,170.4 L1157.2,167.8 L1157.8,165.2 L1158.5,162.6 L1159.1,160 L1159.7,157.5 L1160.4,155 L1161,152.5 L1161.5,150 L1161.9,147.5 L1162.3,145 L1162.7,142.5 L1162.9,140 L1163.1,137.6 L1163.2,135.2 L1163.3,132.8 L1163.4,130.4 L1163.5,128Z" fill="#fdae61" fill-opacity="0.4"/>
<path d="M1241.5,243.3 L1241.9,245.8 L1242.2,248.4 L1242.6,250.9 L1243.1,253.4 L1244.3,256.4 L1245.5,259.4 L1246.2,261.8 L1246.8,264.1 L1247.1,266.5 L1246.9,268.8 L1246.4,271.2 L1245.9,273.5 L1244.7,276.6 L1243.9,279.6 L1244,282.6 L1244.3,285.6 L1246,288.6 L1248.5,291.6 L1250.6,294.3 L1252.7,297 L1254.5,299.7 L1256.3,302.7 L1257.2,305.7 L1256.6,308.8 L1255.5,311.8 L1254.1,314.5 L1252.3,317.1 L1250.5,319.8 L1248.8,322.5 L1247.1,325.2 L1245.5,327.9 L1243.9,330.9 L1242.7,334 L1242.2,336.3 L1241.9,338.7 L1241.5,341 L1241.5,341 L1241.1,338.7 L1240.8,336.3 L1240.3,334 L1239.1,330.9 L1237.5,327.9 L1235.9,325.2 L1234.2,322.5 L1232.5,319.8 L1230.7,317.1 L1228.9,314.5 L1227.5,311.8 L1226.4,308.8 L1225.8,305.7 L1226.7,302.7 L1228.5,299.7 L1230.3,297 L1232.4,294.3 L1234.5,291.6 L1237,288.6 L1238.7,285.6 L1239,282.6 L1239.1,279.6 L1238.3,276.6 L1237.1,273.5 L1236.6,271.2 L1236.1,268.8 L1235.9,266.5 L1236.2,264.1 L1236.8,261.8 L1237.5,259.4 L1238.7,256.4 L1239.9,253.4 L1240.4,250.9 L1240.8,248.4 L1241.1,245.8 L1241.5,243.3Z" fill="#2166ac" fill-opacity="0.4"/>
<path d="M1293.2,201 L1293.3,203.3 L1293.4,205.7 L1293.4,208 L1293.5,210.3 L1293.7,212.7 L1293.8,215 L1294.1,217.5 L1294.5,220 L1295,222.5 L1295.6,225 L1296.3,227.6 L1297.2,230.2 L1298.2,232.7 L1299.2,235.3 L1300.1,237.8 L1301.1,240.3 L1302,242.8 L1302.9,245.3 L1303.7,247.8 L1304.5,250.4 L1305.2,252.9 L1305.9,255.4 L1306.5,257.9 L1307,260.4 L1307.5,263 L1307.9,265.5 L1308.2,268 L1308.6,270.5 L1308.8,273 L1308.9,275.5 L1308.9,278 L1308.8,280.6 L1308.6,283.1 L1308.5,285.6 L1308.3,288.1 L1308,290.6 L1307.7,293.2 L1307.3,295.7 L1306.9,298.2 L1306.6,300.7 L1306.2,303.2 L1305.7,305.7 L1305.2,308.2 L1304.6,310.8 L1303.9,313.3 L1303.2,315.8 L1302.4,318.3 L1301.6,320.9 L1300.7,323.4 L1299.8,325.9 L1298.9,328.4 L1297.9,330.9 L1297,333.5 L1296.2,336 L1295.6,338.5 L1295,341 L1294.5,343.5 L1294.2,346 L1294,348.3 L1293.8,350.7 L1293.6,353 L1293.5,355.3 L1293.4,357.7 L1293.2,360 L1293.2,360 L1293,357.7 L1292.9,355.3 L1292.8,353 L1292.6,350.7 L1292.4,348.3 L1292.2,346 L1291.9,343.5 L1291.4,341 L1290.8,338.5 L1290.2,336 L1289.4,333.5 L1288.5,330.9 L1287.5,328.4 L1286.6,325.9 L1285.7,323.4 L1284.8,320.9 L1284,318.3 L1283.2,315.8 L1282.5,313.3 L1281.8,310.8 L1281.2,308.2 L1280.7,305.7 L1280.2,303.2 L1279.8,300.7 L1279.5,298.2 L1279.1,295.7 L1278.7,293.2 L1278.4,290.6 L1278.1,288.1 L1277.9,285.6 L1277.8,283.1 L1277.6,280.6 L1277.5,278 L1277.5,275.5 L1277.6,273 L1277.8,270.5 L1278.2,268 L1278.5,265.5 L1278.9,263 L1279.4,260.4 L1279.9,257.9 L1280.5,255.4 L1281.2,252.9 L1281.9,250.4 L1282.7,247.8 L1283.5,245.3 L1284.4,242.8 L1285.3,240.3 L1286.3,237.8 L1287.2,235.3 L1288.2,232.7 L1289.2,230.2 L1290.1,227.6 L1290.8,225 L1291.4,222.5 L1291.9,220 L1292.3,217.5 L1292.6,215 L1292.7,212.7 L1292.9,210.3 L1293,208 L1293,205.7 L1293.1,203.3 L1293.2,201Z" fill="#f46d43" fill-opacity="0.4"/>
<path d="M1371.3,267.8 L1371.7,270.5 L1372.1,273.1 L1372.7,275.8 L1373.9,278.5 L1375.2,281.2 L1376.2,283.6 L1377,286 L1377.4,288.4 L1377.1,291 L1376.7,293.7 L1376.2,296.4 L1375.8,299.1 L1377.1,301.8 L1379.3,304.5 L1381.2,306.9 L1383.2,309.2 L1384.7,311.6 L1385.7,313.7 L1386.6,315.8 L1386.9,317.9 L1386.6,320 L1385.7,322.1 L1384.7,324.2 L1383.2,326.6 L1381.2,328.9 L1379.3,331.3 L1377.4,333.7 L1375.5,336.1 L1374,338.5 L1372.8,341.2 L1372,343.9 L1371.6,346.5 L1371.3,349.2 L1371.3,349.2 L1371,346.5 L1370.6,343.9 L1369.8,341.2 L1368.6,338.5 L1367.1,336.1 L1365.2,333.7 L1363.3,331.3 L1361.4,328.9 L1359.4,326.6 L1357.9,324.2 L1356.9,322.1 L1356,320 L1355.7,317.9 L1356,315.8 L1356.9,313.7 L1357.9,311.6 L1359.4,309.2 L1361.4,306.9 L1363.3,304.5 L1365.5,301.8 L1366.8,299.1 L1366.4,296.4 L1365.9,293.7 L1365.5,291 L1365.2,288.4 L1365.6,286 L1366.4,283.6 L1367.4,281.2 L1368.7,278.5 L1369.9,275.8 L1370.5,273.1 L1370.9,270.5 L1371.3,267.8Z" fill="#1b5a95" fill-opacity="0.4"/>
<path d="M1423.2,232 L1423.3,234.5 L1423.5,237.1 L1423.6,239.6 L1423.7,242.1 L1423.9,244.7 L1424.1,247.2 L1424.4,249.4 L1425,251.7 L1425.6,253.9 L1426.2,256.2 L1426.9,258.4 L1427.6,260.6 L1428.3,262.9 L1429.1,265.1 L1429.9,267.3 L1430.6,269.6 L1431.4,271.8 L1432.1,274 L1432.8,276.2 L1433.5,278.5 L1434.2,280.8 L1434.8,283 L1435.4,285.2 L1436,287.5 L1436.6,289.8 L1437,292 L1437.4,294.2 L1437.7,296.5 L1438,298.8 L1438.2,301 L1438.4,303.2 L1438.6,305.4 L1438.7,307.7 L1438.8,309.9 L1438.7,312.1 L1438.5,314.4 L1438.2,316.6 L1437.9,318.8 L1437.4,321.1 L1436.6,323.3 L1435.7,325.6 L1434.8,327.8 L1433.8,330 L1432.7,332.2 L1431.5,334.5 L1430.4,336.7 L1429.2,338.9 L1428,341.2 L1426.8,343.4 L1425.9,345.7 L1425.1,348.1 L1424.4,350.4 L1423.9,352.8 L1423.7,355.1 L1423.5,357.3 L1423.4,359.6 L1423.2,361.8 L1423.2,361.8 L1423,359.6 L1422.9,357.3 L1422.7,355.1 L1422.5,352.8 L1422,350.4 L1421.3,348.1 L1420.5,345.7 L1419.6,343.4 L1418.4,341.2 L1417.2,338.9 L1416,336.7 L1414.9,334.5 L1413.7,332.2 L1412.6,330 L1411.6,327.8 L1410.7,325.6 L1409.8,323.3 L1409,321.1 L1408.5,318.8 L1408.2,316.6 L1407.9,314.4 L1407.7,312.1 L1407.6,309.9 L1407.7,307.7 L1407.8,305.4 L1408,303.2 L1408.2,301 L1408.4,298.8 L1408.7,296.5 L1409,294.2 L1409.4,292 L1409.8,289.8 L1410.4,287.5 L1411,285.2 L1411.6,283 L1412.2,280.8 L1412.9,278.5 L1413.6,276.2 L1414.3,274 L1415,271.8 L1415.8,269.6 L1416.5,267.3 L1417.3,265.1 L1418.1,262.9 L1418.8,260.6 L1419.5,258.4 L1420.2,256.2 L1420.8,253.9 L1421.4,251.7 L1422,249.4 L1422.3,247.2 L1422.5,244.7 L1422.7,242.1 L1422.8,239.6 L1422.9,237.1 L1423.1,234.5 L1423.2,232Z" fill="#d6404e" fill-opacity="0.4"/>
<path d="M1501.2,296.3 L1501.5,298.5 L1501.7,300.8 L1502.2,303 L1503.7,304.9 L1505.5,306.8 L1506.9,309.2 L1508,311.7 L1509,314.1 L1510.1,316.6 L1511.4,319.1 L1512.9,321.5 L1515.3,324.4 L1516.8,327.4 L1515.4,329.4 L1512.9,331.4 L1509.8,333.9 L1506.7,336.3 L1504.4,338.1 L1502.7,340 L1501.9,341.9 L1501.2,343.7 L1501.2,343.7 L1500.5,341.9 L1499.7,340 L1498,338.1 L1495.7,336.3 L1492.6,333.9 L1489.5,331.4 L1487,329.4 L1485.6,327.4 L1487.1,324.4 L1489.5,321.5 L1491,319.1 L1492.3,316.6 L1493.4,314.1 L1494.4,311.7 L1495.5,309.2 L1496.9,306.8 L1498.7,304.9 L1500.2,303 L1500.7,300.8 L1500.9,298.5 L1501.2,296.3Z" fill="#6257ae" fill-opacity="0.4"/>
<path d="M1553.1,287.7 L1553.3,290 L1553.4,292.4 L1553.6,294.7 L1553.8,297 L1554.4,300 L1555.3,303 L1556.8,306.1 L1558.6,309.2 L1560.6,312.3 L1562.7,315.4 L1564.4,318.4 L1566,321.5 L1567.8,324.2 L1568.9,327 L1567.7,329.2 L1565.4,331.4 L1562.5,333.9 L1559.3,336.3 L1556.8,338.1 L1554.9,340 L1553.8,343 L1553.1,346 L1553.1,346 L1552.4,343 L1551.3,340 L1549.4,338.1 L1546.9,336.3 L1543.7,333.9 L1540.8,331.4 L1538.5,329.2 L1537.3,327 L1538.4,324.2 L1540.2,321.5 L1541.8,318.4 L1543.5,315.4 L1545.6,312.3 L1547.6,309.2 L1549.4,306.1 L1550.9,303 L1551.8,300 L1552.4,297 L1552.6,294.7 L1552.8,292.4 L1552.9,290 L1553.1,287.7Z" fill="#a50346" fill-opacity="0.4"/>
<circle cx="981.9" cy="233.2" r="9.4" fill="#92c5de"/>
<circle cx="1033.6" cy="183.2" r="9.4" fill="#fdcb96"/>
<circle cx="1111.7" cy="269.2" r="9.4" fill="#4393c3"/>
<circle cx="1163.5" cy="234.8" r="9.4" fill="#fdae61"/>
<circle cx="1241.5" cy="299.3" r="9.4" fill="#2166ac"/>
<circle cx="1293.2" cy="281.6" r="9.4" fill="#f46d43"/>
<circle cx="1371.3" cy="312.8" r="9.4" fill="#1b5a95"/>
<circle cx="1423.2" cy="302.4" r="9.4" fill="#d6404e"/>
<circle cx="1501.2" cy="323.7" r="9.4" fill="#6257ae"/>
<circle cx="1553.1" cy="322.1" r="9.4" fill="#a50346"/>
<rect class="fr" x="930.1" y="11.5" width="674.8" height="368.7"/>
<line class="tm" x1="930.1" y1="335.12" x2="938.7" y2="335.12"/>
<line class="tm" x1="930.1" y1="270.44" x2="938.7" y2="270.44"/>
<line class="tm" x1="930.1" y1="205.75" x2="938.7" y2="205.75"/>
<line class="tm" x1="930.1" y1="141.07" x2="938.7" y2="141.07"/>
<line class="tm" x1="930.1" y1="76.38" x2="938.7" y2="76.38"/>
<text class="tk" transform="translate(922.3 344.52) scale(0.99 1.04)">0</text>
<text class="tk" transform="translate(922.3 279.84) scale(0.99 1.04)">100</text>
<text class="tk" transform="translate(922.3 215.15) scale(0.99 1.04)">200</text>
<text class="tk" transform="translate(922.3 150.47) scale(0.99 1.04)">300</text>
<text class="tk" transform="translate(922.3 85.78) scale(0.99 1.04)">400</text>
<text class="tk" transform="translate(922.3 21.1) scale(0.99 1.04)">500</text>
<text class="yl" transform="translate(861 196.65) rotate(-90) scale(1 1.05)">Numbers of Ramsar sites</text>
<text class="pl" transform="translate(940 53.3) scale(1 1.04)">b</text>
<text class="pt" transform="translate(982.4 55.1) scale(1.01 1.07)">RCP 4.5</text>
</g>
<g id="panel-c">
<path d="M144.7,579.3 L144.8,581.9 L144.9,584.6 L145,587.2 L145,589.8 L145.1,592.5 L145.2,595.1 L145.3,597.8 L145.5,600.4 L145.7,602.9 L146,605.5 L146.4,608 L146.9,610.5 L147.5,613 L148.2,615.5 L149.1,618 L149.9,620.5 L150.8,623 L151.7,625.5 L152.6,628.1 L153.5,630.6 L154.4,633.1 L155.3,635.7 L156.1,638.2 L156.9,640.7 L157.6,643.2 L158.3,645.7 L158.9,648.2 L159.3,650.7 L159.6,653.4 L159.9,656.1 L160,658.8 L159.9,661.2 L159.7,663.6 L159.4,666.1 L159,668.5 L158.7,670.9 L158.4,673.4 L158,676 L157.6,678.5 L157.2,681 L156.8,683.5 L156.4,686 L156,688.5 L155.7,691 L155.4,693.5 L155.2,696 L155,698.5 L154.8,701 L154.6,703.5 L154.4,706 L154.1,708.3 L153.8,710.7 L153.5,713 L153.2,715.4 L152.9,717.7 L152.5,720.1 L152.1,722.4 L151.7,724.7 L151.2,727.1 L150.7,729.4 L150.2,731.7 L149.7,734 L149.2,736.4 L148.7,738.7 L148.2,741.4 L147.6,744.1 L147,746.8 L146.5,749.5 L146.1,752.2 L145.8,754.9 L145.6,757.5 L145.4,760.1 L145.2,762.6 L145.1,765.2 L145,767.8 L144.9,770.1 L144.9,772.4 L144.8,774.6 L144.8,776.9 L144.7,779.2 L144.7,779.2 L144.6,776.9 L144.6,774.6 L144.5,772.4 L144.5,770.1 L144.4,767.8 L144.3,765.2 L144.2,762.6 L144,760.1 L143.8,757.5 L143.6,754.9 L143.3,752.2 L142.9,749.5 L142.4,746.8 L141.8,744.1 L141.2,741.4 L140.7,738.7 L140.2,736.4 L139.7,734 L139.2,731.7 L138.7,729.4 L138.2,727.1 L137.7,724.7 L137.3,722.4 L136.9,720.1 L136.5,717.7 L136.2,715.4 L135.9,713 L135.6,710.7 L135.3,708.3 L135,706 L134.8,703.5 L134.6,701 L134.4,698.5 L134.2,696 L134,693.5 L133.7,691 L133.4,688.5 L133,686 L132.6,683.5 L132.2,681 L131.8,678.5 L131.4,676 L131,673.4 L130.7,670.9 L130.4,668.5 L130,666.1 L129.7,663.6 L129.5,661.2 L129.4,658.8 L129.5,656.1 L129.8,653.4 L130.1,650.7 L130.5,648.2 L131.1,645.7 L131.8,643.2 L132.5,640.7 L133.3,638.2 L134.1,635.7 L135,633.1 L135.9,630.6 L136.8,628.1 L137.7,625.5 L138.6,623 L139.5,620.5 L140.3,618 L141.2,615.5 L141.9,613 L142.5,610.5 L143,608 L143.4,605.5 L143.7,602.9 L143.9,600.4 L144.1,597.8 L144.2,595.1 L144.3,592.5 L144.4,589.8 L144.4,587.2 L144.5,584.6 L144.6,581.9 L144.7,579.3Z" fill="#92c5de" fill-opacity="0.4"/>
<path d="M196.2,546 L196.3,548.3 L196.3,550.7 L196.4,553 L196.5,555.3 L196.5,557.7 L196.6,560 L196.7,562.7 L196.7,565.3 L196.8,568 L196.9,570.7 L197,573.3 L197.1,576 L197.5,578.8 L198.1,581.5 L198.8,584.3 L199.6,586.8 L200.4,589.3 L201.4,591.9 L202.4,594.4 L203.4,596.9 L204.4,599.4 L205.4,601.9 L206.4,604.4 L207.3,606.9 L208.2,609.5 L209.1,612 L209.7,614.5 L210.2,617 L210.7,619.5 L211,622.1 L211.3,624.6 L211.5,627.3 L211.7,629.9 L211.8,632.6 L211.7,635.3 L211.5,638 L211.3,640.7 L211,643.2 L210.4,645.7 L209.8,648.2 L209.2,650.7 L208.5,653.2 L207.8,655.8 L207,658.3 L206.2,660.8 L205.4,663.3 L204.5,665.8 L203.6,668.4 L202.8,670.9 L202,673.4 L201.2,676 L200.4,678.5 L199.6,681 L198.8,683.7 L197.9,686.3 L197.4,689 L197.1,691.7 L197,694.3 L196.8,697 L196.6,699.5 L196.5,702 L196.3,704.5 L196.2,707 L196.2,707 L196.1,704.5 L195.9,702 L195.8,699.5 L195.6,697 L195.4,694.3 L195.3,691.7 L195,689 L194.5,686.3 L193.6,683.7 L192.8,681 L192,678.5 L191.2,676 L190.4,673.4 L189.6,670.9 L188.8,668.4 L187.9,665.8 L187,663.3 L186.2,660.8 L185.4,658.3 L184.6,655.8 L183.9,653.2 L183.2,650.7 L182.6,648.2 L182,645.7 L181.4,643.2 L181.1,640.7 L180.9,638 L180.7,635.3 L180.6,632.6 L180.7,629.9 L180.9,627.3 L181.1,624.6 L181.4,622.1 L181.7,619.5 L182.2,617 L182.7,614.5 L183.3,612 L184.2,609.5 L185.1,606.9 L186,604.4 L187,601.9 L188,599.4 L189,596.9 L190,594.4 L191,591.9 L192,589.3 L192.8,586.8 L193.6,584.3 L194.3,581.5 L194.9,578.8 L195.3,576 L195.4,573.3 L195.5,570.7 L195.6,568 L195.7,565.3 L195.7,562.7 L195.8,560 L195.9,557.7 L195.9,555.3 L196,553 L196.1,550.7 L196.1,548.3 L196.2,546Z" fill="#fdcb96" fill-opacity="0.4"/>
<path d="M273.7,608 L273.8,610.5 L273.9,613 L273.9,615.4 L274,617.9 L274.1,620.4 L274.2,622.9 L274.3,625.3 L274.4,627.8 L274.5,630.3 L274.7,632.8 L275,635.3 L275.3,637.8 L275.7,640.3 L276.2,642.8 L276.8,645.3 L277.4,647.9 L278.1,650.4 L278.8,652.9 L279.6,655.5 L280.4,658 L281.1,660.5 L281.8,663 L282.4,665.5 L283.1,668 L283.7,670.5 L284.4,673 L285,675.5 L285.7,678.1 L286.2,680.6 L286.7,683.1 L287.1,685.7 L287.5,688.2 L287.8,690.7 L288.1,693.2 L288.4,695.7 L288.6,698.2 L288.8,700.7 L288.9,703.2 L289.1,705.8 L289.2,708.3 L289.2,710.8 L289.2,713.3 L289.1,715.8 L288.9,718.4 L288.8,720.9 L288.6,723.4 L288.2,726 L287.8,728.5 L287.4,731 L287.1,733.2 L286.7,735.5 L286.3,737.8 L285.9,740 L285.3,742.6 L284.7,745.3 L284,748 L283.3,750.6 L282.5,753.3 L281.7,756 L280.9,758.6 L280.1,761.3 L279.3,763.9 L278.5,766.6 L277.7,769.2 L277.1,771.9 L276.6,774.5 L276.2,777.2 L275.8,779.9 L275.5,782.5 L275.2,785.2 L275,787.9 L274.7,790.5 L274.6,793.2 L274.4,795.9 L274.3,798.5 L274.2,801.1 L274.1,803.8 L274,806.3 L274,808.8 L273.9,811.4 L273.9,813.9 L273.8,816.4 L273.8,819 L273.7,821.5 L273.7,824 L273.7,824 L273.7,821.5 L273.6,819 L273.6,816.4 L273.5,813.9 L273.5,811.4 L273.4,808.8 L273.4,806.3 L273.3,803.8 L273.2,801.1 L273.1,798.5 L273,795.9 L272.8,793.2 L272.7,790.5 L272.4,787.9 L272.2,785.2 L271.9,782.5 L271.6,779.9 L271.2,777.2 L270.8,774.5 L270.3,771.9 L269.7,769.2 L268.9,766.6 L268.1,763.9 L267.3,761.3 L266.5,758.6 L265.7,756 L264.9,753.3 L264.1,750.6 L263.4,748 L262.7,745.3 L262.1,742.6 L261.5,740 L261.1,737.8 L260.7,735.5 L260.3,733.2 L260,731 L259.6,728.5 L259.2,726 L258.8,723.4 L258.6,720.9 L258.4,718.4 L258.3,715.8 L258.2,713.3 L258.2,710.8 L258.2,708.3 L258.3,705.8 L258.5,703.2 L258.6,700.7 L258.8,698.2 L259,695.7 L259.3,693.2 L259.6,690.7 L259.9,688.2 L260.3,685.7 L260.7,683.1 L261.2,680.6 L261.7,678.1 L262.4,675.5 L263,673 L263.7,670.5 L264.3,668 L265,665.5 L265.6,663 L266.3,660.5 L267,658 L267.8,655.5 L268.6,652.9 L269.3,650.4 L270,647.9 L270.6,645.3 L271.2,642.8 L271.7,640.3 L272.1,637.8 L272.4,635.3 L272.7,632.8 L272.9,630.3 L273,627.8 L273.1,625.3 L273.2,622.9 L273.3,620.4 L273.4,617.9 L273.5,615.4 L273.5,613 L273.6,610.5 L273.7,608Z" fill="#4393c3" fill-opacity="0.4"/>
<path d="M325.2,624.2 L325.4,626.6 L325.5,628.9 L325.7,631.2 L325.9,633.6 L326.1,635.9 L326.4,638.3 L327.3,641 L328.7,643.7 L330.2,646.4 L331.8,649.1 L333.4,651.7 L334.9,654.4 L336.2,657.1 L337.3,659.8 L338.2,662.5 L339,665.2 L339.6,667.8 L340.1,670.5 L340.5,673.5 L340.7,676.6 L340.6,679.3 L340.3,681.9 L339.9,684.6 L339.4,687.1 L338.7,689.7 L338,692.2 L337.2,694.7 L336.5,697.2 L335.7,699.8 L335,702.3 L334.2,704.8 L333.4,707.3 L332.5,709.8 L331.6,712.3 L330.8,714.8 L330,717.3 L329.2,719.8 L328.5,722.4 L327.8,724.9 L327.2,727.6 L326.6,730.3 L326.2,733 L326,735.7 L325.8,738.3 L325.6,741 L325.5,743.7 L325.4,746.3 L325.2,749 L325.2,749 L325,746.3 L324.9,743.7 L324.8,741 L324.6,738.3 L324.4,735.7 L324.2,733 L323.8,730.3 L323.2,727.6 L322.6,724.9 L321.9,722.4 L321.2,719.8 L320.4,717.3 L319.6,714.8 L318.8,712.3 L317.9,709.8 L317,707.3 L316.2,704.8 L315.4,702.3 L314.7,699.8 L313.9,697.2 L313.2,694.7 L312.4,692.2 L311.7,689.7 L311,687.1 L310.5,684.6 L310.1,681.9 L309.8,679.3 L309.7,676.6 L309.9,673.5 L310.3,670.5 L310.8,667.8 L311.4,665.2 L312.2,662.5 L313.1,659.8 L314.2,657.1 L315.5,654.4 L317,651.7 L318.6,649.1 L320.2,646.4 L321.7,643.7 L323.1,641 L324,638.3 L324.3,635.9 L324.5,633.6 L324.7,631.2 L324.9,628.9 L325,626.6 L325.2,624.2Z" fill="#fdae61" fill-opacity="0.4"/>
<path d="M402.7,667 L402.8,669.4 L402.9,671.7 L402.9,674.1 L403,676.5 L403.2,678.8 L403.3,681.2 L403.6,683.9 L404.1,686.5 L404.7,689.2 L405.4,691.9 L406.2,694.6 L407.1,697.3 L408,700 L408.9,702.6 L409.7,705.3 L410.4,707.8 L411.1,710.3 L411.8,712.9 L412.4,715.4 L413,717.9 L413.5,720.5 L414,723 L414.4,725.5 L414.8,728 L415.1,730.5 L415.5,733 L415.8,735.5 L416.2,738 L416.5,740.5 L416.9,743.1 L417.2,745.6 L417.5,748.3 L417.9,751 L418.1,753.8 L418.2,756.5 L418,758.8 L417.6,761.1 L417,763.4 L416.4,765.7 L415.6,768.2 L414.6,770.8 L413.5,773.3 L412.4,775.8 L411.2,778.3 L410,780.8 L408.8,783.4 L407.7,785.9 L406.7,788.4 L405.7,791 L404.9,793.5 L404.3,796 L404,798.5 L403.7,801 L403.5,803.5 L403.3,806 L403.1,808.5 L403,811 L402.8,813.5 L402.7,816 L402.7,816 L402.6,813.5 L402.4,811 L402.3,808.5 L402.1,806 L401.9,803.5 L401.7,801 L401.4,798.5 L401.1,796 L400.5,793.5 L399.7,791 L398.7,788.4 L397.7,785.9 L396.6,783.4 L395.4,780.8 L394.2,778.3 L393,775.8 L391.9,773.3 L390.8,770.8 L389.8,768.2 L389,765.7 L388.4,763.4 L387.8,761.1 L387.4,758.8 L387.2,756.5 L387.3,753.8 L387.5,751 L387.9,748.3 L388.2,745.6 L388.5,743.1 L388.9,740.5 L389.2,738 L389.6,735.5 L389.9,733 L390.3,730.5 L390.6,728 L391,725.5 L391.4,723 L391.9,720.5 L392.4,717.9 L393,715.4 L393.6,712.9 L394.3,710.3 L395,707.8 L395.7,705.3 L396.5,702.6 L397.4,700 L398.3,697.3 L399.2,694.6 L400,691.9 L400.7,689.2 L401.3,686.5 L401.8,683.9 L402.1,681.2 L402.2,678.8 L402.4,676.5 L402.5,674.1 L402.5,671.7 L402.6,669.4 L402.7,667Z" fill="#2166ac" fill-opacity="0.4"/>
<path d="M454.6,672 L454.8,674.6 L454.9,677.3 L455.1,679.9 L455.3,682.6 L455.6,685.2 L456.4,687.9 L457.6,690.6 L459,693.3 L460.3,696 L461.8,698.6 L463.1,701.3 L464.3,704 L465.5,706.7 L466.6,709.4 L467.6,712.1 L468.6,714.7 L469.3,717.4 L469.8,720.5 L470.1,723.5 L470,726.2 L469.7,728.8 L469.3,731.5 L468.9,734.2 L468.3,736.9 L467.7,739.6 L467,742.3 L466.2,744.9 L465.3,747.6 L464.4,750.3 L463.5,753 L462.6,755.7 L461.6,758.4 L460.6,761 L459.6,763.7 L458.6,766.4 L457.7,769.1 L457,771.8 L456.4,774.5 L455.9,777.1 L455.6,779.8 L455.4,782.3 L455.3,784.8 L455.1,787.4 L455,789.9 L454.9,792.4 L454.8,795 L454.7,797.5 L454.6,800 L454.6,800 L454.5,797.5 L454.4,795 L454.3,792.4 L454.2,789.9 L454.1,787.4 L453.9,784.8 L453.8,782.3 L453.6,779.8 L453.3,777.1 L452.8,774.5 L452.2,771.8 L451.5,769.1 L450.6,766.4 L449.6,763.7 L448.6,761 L447.6,758.4 L446.6,755.7 L445.7,753 L444.8,750.3 L443.9,747.6 L443,744.9 L442.2,742.3 L441.5,739.6 L440.9,736.9 L440.3,734.2 L439.9,731.5 L439.5,728.8 L439.2,726.2 L439.1,723.5 L439.4,720.5 L439.9,717.4 L440.6,714.7 L441.6,712.1 L442.6,709.4 L443.7,706.7 L444.9,704 L446.1,701.3 L447.4,698.6 L448.9,696 L450.2,693.3 L451.6,690.6 L452.8,687.9 L453.6,685.2 L453.9,682.6 L454.1,679.9 L454.3,677.3 L454.4,674.6 L454.6,672Z" fill="#f46d43" fill-opacity="0.4"/>
<path d="M532,699.3 L532.2,702 L532.3,704.8 L532.5,707.5 L532.8,710.2 L533.3,712.4 L534.1,714.7 L535,716.9 L535.9,719.1 L536.9,721.4 L537.9,723.6 L538.8,725.8 L539.7,728.1 L540.4,730.3 L541.2,733.1 L541.8,735.9 L542.4,738.7 L542.9,741.5 L543.2,744.3 L543.7,747.1 L544.4,749.9 L545.1,752.7 L545.8,755.5 L546.4,758.3 L547,761.1 L547.3,763.9 L547.2,766.1 L546.8,768.4 L546.3,770.6 L545.5,772.8 L544.2,775.1 L542.9,777.3 L541.6,779.5 L540.3,781.8 L539,784 L537.7,786.2 L536.5,788.5 L535.4,790.7 L534.4,792.9 L533.6,795.2 L533,797.4 L532.7,799.8 L532.5,802.1 L532.3,804.5 L532.2,806.8 L532,809.2 L532,809.2 L531.8,806.8 L531.7,804.5 L531.5,802.1 L531.3,799.8 L531,797.4 L530.4,795.2 L529.6,792.9 L528.6,790.7 L527.5,788.5 L526.3,786.2 L525,784 L523.7,781.8 L522.4,779.5 L521.1,777.3 L519.8,775.1 L518.5,772.8 L517.7,770.6 L517.2,768.4 L516.8,766.1 L516.7,763.9 L517,761.1 L517.6,758.3 L518.2,755.5 L518.9,752.7 L519.6,749.9 L520.3,747.1 L520.8,744.3 L521.1,741.5 L521.6,738.7 L522.2,735.9 L522.8,733.1 L523.6,730.3 L524.3,728.1 L525.2,725.8 L526.1,723.6 L527.1,721.4 L528.1,719.1 L529,716.9 L529.9,714.7 L530.7,712.4 L531.2,710.2 L531.5,707.5 L531.7,704.8 L531.8,702 L532,699.3Z" fill="#1b5a95" fill-opacity="0.4"/>
<path d="M583.5,703.5 L583.7,705.8 L583.8,708.2 L584,710.5 L584.2,712.9 L584.5,715.2 L585.2,717.4 L586.4,719.7 L587.7,721.9 L589.1,724.2 L590.5,726.4 L591.9,728.7 L593.1,730.9 L594.2,733.2 L595.2,735.4 L596.2,737.6 L597.1,739.9 L597.8,742.1 L598.4,744.9 L598.8,747.7 L599,750.5 L598.9,752.7 L598.6,755 L598.3,757.2 L597.8,759.4 L597,761.7 L596.1,763.9 L595.2,766.1 L594.2,768.4 L593.2,770.6 L592.1,772.8 L591,775.1 L589.9,777.3 L588.8,779.5 L587.8,781.8 L586.9,784 L586,786.2 L585.2,788.5 L584.7,790.7 L584.4,793.1 L584.2,795.5 L584,797.9 L583.9,800.3 L583.8,802.7 L583.7,805.1 L583.5,807.5 L583.5,807.5 L583.3,805.1 L583.2,802.7 L583.1,800.3 L583,797.9 L582.8,795.5 L582.6,793.1 L582.3,790.7 L581.8,788.5 L581,786.2 L580.1,784 L579.2,781.8 L578.2,779.5 L577.1,777.3 L576,775.1 L574.9,772.8 L573.8,770.6 L572.8,768.4 L571.8,766.1 L570.9,763.9 L570,761.7 L569.2,759.4 L568.7,757.2 L568.4,755 L568.1,752.7 L568,750.5 L568.2,747.7 L568.6,744.9 L569.2,742.1 L569.9,739.9 L570.8,737.6 L571.8,735.4 L572.8,733.2 L573.9,730.9 L575.1,728.7 L576.5,726.4 L577.9,724.2 L579.3,721.9 L580.6,719.7 L581.8,717.4 L582.5,715.2 L582.8,712.9 L583,710.5 L583.2,708.2 L583.3,705.8 L583.5,703.5Z" fill="#d6404e" fill-opacity="0.4"/>
<path d="M661,735.9 L661.3,738.8 L661.6,741.6 L662,744.5 L662.7,747 L663.7,749.5 L664.8,752.5 L665.9,755.6 L667.1,758.7 L668.4,761.8 L670.1,764.8 L672,767.9 L673.9,770.7 L675.8,773.4 L676.6,776.2 L675.2,778.8 L672.7,781.4 L670.3,783.9 L667.8,786.4 L664.9,788.8 L662.8,791.3 L662,794.2 L661.5,797.1 L661,800 L661,800 L660.5,797.1 L660,794.2 L659.2,791.3 L657.1,788.8 L654.2,786.4 L651.7,783.9 L649.3,781.4 L646.8,778.8 L645.4,776.2 L646.2,773.4 L648.1,770.7 L650,767.9 L651.9,764.8 L653.6,761.8 L654.9,758.7 L656.1,755.6 L657.2,752.5 L658.3,749.5 L659.3,747 L660,744.5 L660.4,741.6 L660.7,738.8 L661,735.9Z" fill="#6257ae" fill-opacity="0.4"/>
<path d="M712.8,741.5 L713.1,744.2 L713.4,746.8 L713.8,749.5 L715.1,752 L717.1,754.4 L719.5,756.8 L722,759.3 L724.1,761.8 L725.7,764.2 L726.9,766.5 L728,768.7 L728.4,771 L727.9,773.8 L726.9,776.5 L725.6,779 L723.8,781.4 L721.8,783.9 L719.6,786.4 L717.3,788.8 L715.3,791.3 L714.2,793.1 L713.5,795 L713.2,797.5 L713,799.9 L712.8,802.4 L712.8,802.4 L712.6,799.9 L712.4,797.5 L712.1,795 L711.4,793.1 L710.3,791.3 L708.3,788.8 L706,786.4 L703.8,783.9 L701.8,781.4 L700,779 L698.7,776.5 L697.7,773.8 L697.2,771 L697.6,768.7 L698.7,766.5 L699.9,764.2 L701.5,761.8 L703.6,759.3 L706.1,756.8 L708.5,754.4 L710.5,752 L711.8,749.5 L712.2,746.8 L712.5,744.2 L712.8,741.5Z" fill="#a50346" fill-opacity="0.4"/>
<circle cx="144.7" cy="673.9" r="9.4" fill="#92c5de"/>
<circle cx="196.2" cy="632.6" r="9.4" fill="#fdcb96"/>
<circle cx="273.7" cy="714.4" r="9.4" fill="#4393c3"/>
<circle cx="325.2" cy="683.2" r="9.4" fill="#fdae61"/>
<circle cx="402.7" cy="743.8" r="9.4" fill="#2166ac"/>
<circle cx="454.6" cy="730.1" r="9.4" fill="#f46d43"/>
<circle cx="532" cy="757.6" r="9.4" fill="#1b5a95"/>
<circle cx="583.5" cy="752.7" r="9.4" fill="#d6404e"/>
<circle cx="661" cy="772.4" r="9.4" fill="#6257ae"/>
<circle cx="712.8" cy="771.5" r="9.4" fill="#a50346"/>
<rect class="fr" x="92.9" y="464.65" width="671.6" height="368.65"/>
<line class="tm" x1="92.9" y1="788.27" x2="101.5" y2="788.27"/>
<line class="tm" x1="92.9" y1="723.59" x2="101.5" y2="723.59"/>
<line class="tm" x1="92.9" y1="658.9" x2="101.5" y2="658.9"/>
<line class="tm" x1="92.9" y1="594.22" x2="101.5" y2="594.22"/>
<line class="tm" x1="92.9" y1="529.53" x2="101.5" y2="529.53"/>
<text class="tk" transform="translate(85.1 797.67) scale(0.99 1.04)">0</text>
<text class="tk" transform="translate(85.1 732.99) scale(0.99 1.04)">100</text>
<text class="tk" transform="translate(85.1 668.3) scale(0.99 1.04)">200</text>
<text class="tk" transform="translate(85.1 603.62) scale(0.99 1.04)">300</text>
<text class="tk" transform="translate(85.1 538.93) scale(0.99 1.04)">400</text>
<text class="tk" transform="translate(85.1 474.25) scale(0.99 1.04)">500</text>
<text class="yl" transform="translate(23.8 649.77) rotate(-90) scale(1 1.05)">Numbers of Ramsar sites</text>
<text class="pl" transform="translate(104.3 506.45) scale(1 1.04)">c</text>
<text class="pt" transform="translate(144.1 508.25) scale(1.01 1.07)">RCP 6.0</text>
</g>
<g id="panel-d">
<path d="M981.9,535.3 L982,537.8 L982.1,540.3 L982.1,542.9 L982.2,545.4 L982.3,547.9 L982.4,550.4 L982.5,552.9 L982.6,555.5 L982.7,558 L982.8,560.5 L982.9,563 L983.1,565.5 L983.3,568 L983.5,570.5 L983.7,573.1 L983.9,575.6 L984.1,578.1 L984.3,580.6 L984.5,583.1 L984.7,585.6 L984.8,588.1 L985,590.7 L985.2,593.2 L985.4,595.7 L985.6,598.2 L985.8,600.7 L986,603.2 L986.2,605.8 L986.5,608.3 L986.7,610.8 L986.9,613.3 L987.2,615.8 L987.5,618.4 L987.8,620.9 L988.1,623.4 L988.5,626 L988.9,628.5 L989.4,631 L989.9,633.5 L990.5,636 L991.1,638.5 L991.7,641 L992.3,643.5 L993,646 L993.6,648.5 L994.2,651 L994.8,653.5 L995.4,656 L996,658.5 L996.4,661 L996.7,663.2 L997.1,665.5 L997.3,667.8 L997.4,670 L997.4,672.5 L997.4,675 L997.4,677.5 L997.4,680 L997.3,682.6 L996.9,685.1 L996.4,687.7 L995.9,690.3 L995.4,692.8 L994.8,695.3 L994.2,697.8 L993.6,700.3 L993,702.8 L992.3,705.3 L991.6,707.9 L990.9,710.4 L990.2,712.9 L989.4,715.5 L988.6,718 L987.9,720.5 L987.2,723 L986.5,725.5 L985.9,728 L985.3,730.5 L984.7,733 L984.2,735.5 L983.7,738.1 L983.3,740.6 L983,743.1 L982.8,745.7 L982.7,748.2 L982.5,750.7 L982.4,753.1 L982.2,755.5 L982.1,757.9 L982,760.3 L981.9,762.7 L981.9,762.7 L981.8,760.3 L981.7,757.9 L981.6,755.5 L981.4,753.1 L981.3,750.7 L981.1,748.2 L981,745.7 L980.8,743.1 L980.5,740.6 L980.1,738.1 L979.6,735.5 L979.1,733 L978.5,730.5 L977.9,728 L977.3,725.5 L976.6,723 L975.9,720.5 L975.2,718 L974.4,715.5 L973.6,712.9 L972.9,710.4 L972.2,707.9 L971.5,705.3 L970.8,702.8 L970.2,700.3 L969.6,697.8 L969,695.3 L968.4,692.8 L967.9,690.3 L967.4,687.7 L966.9,685.1 L966.5,682.6 L966.4,680 L966.4,677.5 L966.4,675 L966.4,672.5 L966.4,670 L966.5,667.8 L966.7,665.5 L967.1,663.2 L967.4,661 L967.8,658.5 L968.4,656 L969,653.5 L969.6,651 L970.2,648.5 L970.8,646 L971.5,643.5 L972.1,641 L972.7,638.5 L973.3,636 L973.9,633.5 L974.4,631 L974.9,628.5 L975.3,626 L975.7,623.4 L976,620.9 L976.3,618.4 L976.6,615.8 L976.9,613.3 L977.1,610.8 L977.3,608.3 L977.6,605.8 L977.8,603.2 L978,600.7 L978.2,598.2 L978.4,595.7 L978.6,593.2 L978.8,590.7 L979,588.1 L979.1,585.6 L979.3,583.1 L979.5,580.6 L979.7,578.1 L979.9,575.6 L980.1,573.1 L980.3,570.5 L980.5,568 L980.7,565.5 L980.9,563 L981,560.5 L981.1,558 L981.2,555.5 L981.3,552.9 L981.4,550.4 L981.5,547.9 L981.6,545.4 L981.7,542.9 L981.7,540.3 L981.8,537.8 L981.9,535.3Z" fill="#92c5de" fill-opacity="0.4"/>
<path d="M1033.6,487 L1033.8,489.6 L1034,492.2 L1034.3,494.8 L1034.5,497.4 L1034.8,500 L1035.2,502.5 L1035.6,505 L1036.1,507.5 L1036.6,510 L1037.2,512.5 L1037.8,515 L1038.5,517.5 L1039.2,520 L1039.9,522.6 L1040.7,525.1 L1041.5,527.7 L1042.2,530.3 L1042.9,532.8 L1043.6,535.3 L1044.2,537.8 L1044.8,540.3 L1045.4,542.8 L1045.9,545.3 L1046.4,547.9 L1046.8,550.4 L1047.2,552.9 L1047.5,555.5 L1047.7,558 L1048,560.5 L1048.2,563 L1048.4,565.5 L1048.6,568 L1048.8,570.5 L1049,573 L1049.1,575.5 L1049.3,578.1 L1049.3,580.6 L1049.3,583.1 L1049.2,585.7 L1049,588.2 L1048.9,590.7 L1048.7,593.2 L1048.6,595.7 L1048.3,598.2 L1048.1,600.7 L1047.8,603.2 L1047.5,605.8 L1047.1,608.3 L1046.7,610.8 L1046.3,613.3 L1045.9,615.8 L1045.5,618.4 L1045.1,620.9 L1044.8,623.4 L1044.4,626 L1044.1,628.5 L1043.8,631 L1043.5,633.5 L1043.1,636 L1042.8,638.5 L1042.4,641 L1042,643.5 L1041.6,646 L1041.2,648.5 L1040.8,651 L1040.4,653.5 L1040,656 L1039.6,658.5 L1039.2,661 L1038.8,663.2 L1038.4,665.5 L1038.1,667.8 L1037.7,670 L1037.3,672.5 L1036.9,675 L1036.5,677.5 L1036.1,680 L1035.7,682.6 L1035.4,685.1 L1035.1,687.7 L1034.8,690.3 L1034.6,692.7 L1034.3,695.1 L1034.1,697.6 L1034,700 L1033.9,702.3 L1033.8,704.7 L1033.8,707 L1033.7,709.3 L1033.7,711.7 L1033.6,714 L1033.6,714 L1033.5,711.7 L1033.5,709.3 L1033.4,707 L1033.4,704.7 L1033.3,702.3 L1033.2,700 L1033.1,697.6 L1032.9,695.1 L1032.6,692.7 L1032.4,690.3 L1032.1,687.7 L1031.8,685.1 L1031.5,682.6 L1031.1,680 L1030.7,677.5 L1030.3,675 L1029.9,672.5 L1029.5,670 L1029.1,667.8 L1028.8,665.5 L1028.4,663.2 L1028,661 L1027.6,658.5 L1027.2,656 L1026.8,653.5 L1026.4,651 L1026,648.5 L1025.6,646 L1025.2,643.5 L1024.8,641 L1024.4,638.5 L1024.1,636 L1023.7,633.5 L1023.4,631 L1023.1,628.5 L1022.8,626 L1022.4,623.4 L1022.1,620.9 L1021.7,618.4 L1021.3,615.8 L1020.9,613.3 L1020.5,610.8 L1020.1,608.3 L1019.7,605.8 L1019.4,603.2 L1019.1,600.7 L1018.9,598.2 L1018.6,595.7 L1018.5,593.2 L1018.3,590.7 L1018.2,588.2 L1018,585.7 L1017.9,583.1 L1017.9,580.6 L1017.9,578.1 L1018.1,575.5 L1018.2,573 L1018.4,570.5 L1018.6,568 L1018.8,565.5 L1019,563 L1019.2,560.5 L1019.5,558 L1019.7,555.5 L1020,552.9 L1020.4,550.4 L1020.8,547.9 L1021.3,545.3 L1021.8,542.8 L1022.4,540.3 L1023,537.8 L1023.6,535.3 L1024.3,532.8 L1025,530.3 L1025.7,527.7 L1026.5,525.1 L1027.3,522.6 L1028,520 L1028.7,517.5 L1029.4,515 L1030,512.5 L1030.6,510 L1031.1,507.5 L1031.6,505 L1032,502.5 L1032.4,500 L1032.7,497.4 L1032.9,494.8 L1033.2,492.2 L1033.4,489.6 L1033.6,487Z" fill="#fdcb96" fill-opacity="0.4"/>
<path d="M1111.7,580.3 L1111.8,582.8 L1111.8,585.3 L1111.9,587.8 L1112,590.3 L1112.1,592.9 L1112.1,595.4 L1112.2,597.9 L1112.3,600.4 L1112.4,602.9 L1112.5,605.4 L1112.6,607.9 L1112.7,610.5 L1112.9,613 L1113,615.5 L1113.2,618 L1113.3,620.5 L1113.5,623 L1113.6,625.5 L1113.8,628.1 L1113.9,630.6 L1114.1,633.1 L1114.3,635.7 L1114.5,638.2 L1114.7,640.7 L1114.9,643.2 L1115.1,645.7 L1115.3,648.2 L1115.5,650.8 L1115.8,653.3 L1116,655.8 L1116.2,658.3 L1116.5,660.8 L1116.8,663.3 L1117,665.8 L1117.4,668.4 L1117.7,670.9 L1118.1,673.4 L1118.6,676 L1119.1,678.5 L1119.7,681 L1120.3,683.5 L1120.9,686 L1121.5,688.5 L1122.2,691 L1122.8,693.3 L1123.5,695.7 L1124.1,698 L1124.8,700.7 L1125.5,703.5 L1126,706.2 L1126.4,708.5 L1126.7,710.8 L1127,713 L1127.2,715.3 L1127.3,717.6 L1127.2,720 L1126.9,722.5 L1126.5,724.9 L1126,727.3 L1125.2,730 L1124.2,732.7 L1123.1,735.4 L1121.9,738.1 L1120.7,740.8 L1119.5,743.5 L1118.3,746.2 L1117.2,748.9 L1116.2,751.6 L1115.2,754.3 L1114.3,757 L1113.6,759.7 L1113.1,762.4 L1112.8,765.1 L1112.5,767.8 L1112.3,770.5 L1112.2,773.2 L1112,775.9 L1111.9,778.6 L1111.8,781.3 L1111.7,784 L1111.7,784 L1111.6,781.3 L1111.5,778.6 L1111.4,775.9 L1111.2,773.2 L1111.1,770.5 L1110.9,767.8 L1110.6,765.1 L1110.3,762.4 L1109.8,759.7 L1109.1,757 L1108.2,754.3 L1107.2,751.6 L1106.2,748.9 L1105.1,746.2 L1103.9,743.5 L1102.7,740.8 L1101.5,738.1 L1100.3,735.4 L1099.2,732.7 L1098.2,730 L1097.4,727.3 L1096.9,724.9 L1096.5,722.5 L1096.2,720 L1096.1,717.6 L1096.2,715.3 L1096.4,713 L1096.7,710.8 L1097,708.5 L1097.4,706.2 L1097.9,703.5 L1098.6,700.7 L1099.3,698 L1099.9,695.7 L1100.6,693.3 L1101.2,691 L1101.9,688.5 L1102.5,686 L1103.1,683.5 L1103.7,681 L1104.3,678.5 L1104.8,676 L1105.3,673.4 L1105.7,670.9 L1106,668.4 L1106.4,665.8 L1106.6,663.3 L1106.9,660.8 L1107.2,658.3 L1107.4,655.8 L1107.6,653.3 L1107.9,650.8 L1108.1,648.2 L1108.3,645.7 L1108.5,643.2 L1108.7,640.7 L1108.9,638.2 L1109.1,635.7 L1109.3,633.1 L1109.5,630.6 L1109.6,628.1 L1109.8,625.5 L1109.9,623 L1110.1,620.5 L1110.2,618 L1110.4,615.5 L1110.5,613 L1110.7,610.5 L1110.8,607.9 L1110.9,605.4 L1111,602.9 L1111.1,600.4 L1111.2,597.9 L1111.3,595.4 L1111.3,592.9 L1111.4,590.3 L1111.5,587.8 L1111.6,585.3 L1111.6,582.8 L1111.7,580.3Z" fill="#4393c3" fill-opacity="0.4"/>
<path d="M1163.5,542 L1163.6,544.6 L1163.7,547.1 L1163.7,549.7 L1163.8,552.3 L1163.9,554.9 L1164,557.4 L1164.1,560 L1164.2,562.5 L1164.4,565 L1164.6,567.5 L1164.9,570 L1165.3,572.6 L1166,575.1 L1166.7,577.7 L1167.5,580.3 L1168.4,582.8 L1169.4,585.3 L1170.5,587.8 L1171.5,590.3 L1172.4,592.8 L1173.3,595.3 L1174.2,597.9 L1175,600.4 L1175.7,602.9 L1176.4,605.5 L1177.1,608 L1177.6,610.5 L1178.1,613.2 L1178.6,616 L1179,618.8 L1179.1,621.5 L1179.1,623.8 L1179,626 L1178.9,628.3 L1178.8,630.6 L1178.6,633.1 L1178.1,635.7 L1177.7,638.2 L1177.2,640.7 L1176.8,643.2 L1176.3,645.7 L1175.9,648.2 L1175.5,650.7 L1175.1,653.2 L1174.7,655.8 L1174.4,658.3 L1174,660.8 L1173.6,663.3 L1173.2,665.8 L1172.9,668.4 L1172.5,670.9 L1172.1,673.4 L1171.8,676 L1171.4,678.5 L1171.1,681 L1170.9,683.2 L1170.7,685.5 L1170.5,687.8 L1170.3,690 L1170,692.7 L1169.6,695.3 L1169.2,698 L1168.7,700.7 L1168.2,703.3 L1167.7,706 L1167.2,708.8 L1166.7,711.5 L1166.3,714.3 L1165.9,717 L1165.5,719.7 L1165.1,722.4 L1164.8,725.1 L1164.5,727.8 L1164.3,730.5 L1164.2,733.2 L1164.1,736 L1164,738.7 L1163.9,741.3 L1163.9,744 L1163.8,746.6 L1163.7,749.2 L1163.7,751.8 L1163.6,754.5 L1163.6,757.1 L1163.5,759.7 L1163.5,759.7 L1163.4,757.1 L1163.4,754.5 L1163.3,751.8 L1163.3,749.2 L1163.2,746.6 L1163.1,744 L1163.1,741.3 L1163,738.7 L1162.9,736 L1162.8,733.2 L1162.7,730.5 L1162.5,727.8 L1162.2,725.1 L1161.9,722.4 L1161.5,719.7 L1161.1,717 L1160.7,714.3 L1160.3,711.5 L1159.8,708.8 L1159.3,706 L1158.8,703.3 L1158.3,700.7 L1157.8,698 L1157.4,695.3 L1157,692.7 L1156.7,690 L1156.5,687.8 L1156.3,685.5 L1156.1,683.2 L1155.9,681 L1155.6,678.5 L1155.2,676 L1154.9,673.4 L1154.5,670.9 L1154.1,668.4 L1153.8,665.8 L1153.4,663.3 L1153,660.8 L1152.6,658.3 L1152.3,655.8 L1151.9,653.2 L1151.5,650.7 L1151.1,648.2 L1150.7,645.7 L1150.2,643.2 L1149.8,640.7 L1149.3,638.2 L1148.9,635.7 L1148.4,633.1 L1148.2,630.6 L1148.1,628.3 L1148,626 L1147.9,623.8 L1147.9,621.5 L1148,618.8 L1148.4,616 L1148.9,613.2 L1149.4,610.5 L1149.9,608 L1150.6,605.5 L1151.3,602.9 L1152,600.4 L1152.8,597.9 L1153.7,595.3 L1154.6,592.8 L1155.5,590.3 L1156.5,587.8 L1157.6,585.3 L1158.6,582.8 L1159.5,580.3 L1160.3,577.7 L1161,575.1 L1161.7,572.6 L1162.1,570 L1162.4,567.5 L1162.6,565 L1162.8,562.5 L1162.9,560 L1163,557.4 L1163.1,554.9 L1163.2,552.3 L1163.3,549.7 L1163.3,547.1 L1163.4,544.6 L1163.5,542Z" fill="#fdae61" fill-opacity="0.4"/>
<path d="M1241.5,648.8 L1241.6,651.3 L1241.7,653.9 L1241.8,656.4 L1241.9,658.9 L1242.1,661.5 L1242.2,664 L1242.4,666.4 L1242.5,668.7 L1242.7,671.1 L1243,673.4 L1243.2,675.8 L1243.5,678.1 L1243.7,680.5 L1244.1,682.8 L1244.4,685.2 L1244.7,687.5 L1245,689.9 L1245.4,692.2 L1245.8,694.6 L1246.1,696.9 L1246.5,699.3 L1246.8,701.6 L1247.2,704 L1247.5,706.3 L1247.8,708.7 L1248.2,711 L1248.6,713.4 L1249,715.7 L1249.5,718.1 L1250,720.4 L1250.5,722.8 L1251.1,725.1 L1251.8,727.5 L1252.5,729.8 L1253.2,732.2 L1253.9,734.5 L1254.7,737.1 L1255.5,739.8 L1256.2,742.4 L1256.7,745 L1257,748 L1257.2,751 L1257,753.3 L1256.5,755.6 L1255.8,758 L1255.1,760.3 L1254.3,762.6 L1253.2,765 L1252.1,767.4 L1250.9,769.7 L1249.7,772 L1248.5,774.4 L1247.3,776.7 L1246.2,779 L1245.2,781.4 L1244.3,783.8 L1243.4,786.1 L1242.9,788.5 L1242.6,790.9 L1242.3,793.2 L1242.1,795.5 L1241.9,797.9 L1241.7,800.2 L1241.5,802.6 L1241.5,802.6 L1241.3,800.2 L1241.1,797.9 L1240.9,795.5 L1240.7,793.2 L1240.4,790.9 L1240.1,788.5 L1239.6,786.1 L1238.7,783.8 L1237.8,781.4 L1236.8,779 L1235.7,776.7 L1234.5,774.4 L1233.3,772 L1232.1,769.7 L1230.9,767.4 L1229.8,765 L1228.7,762.6 L1227.9,760.3 L1227.2,758 L1226.5,755.6 L1226,753.3 L1225.8,751 L1226,748 L1226.3,745 L1226.8,742.4 L1227.5,739.8 L1228.3,737.1 L1229.1,734.5 L1229.8,732.2 L1230.5,729.8 L1231.2,727.5 L1231.9,725.1 L1232.5,722.8 L1233,720.4 L1233.5,718.1 L1234,715.7 L1234.4,713.4 L1234.8,711 L1235.2,708.7 L1235.5,706.3 L1235.8,704 L1236.2,701.6 L1236.5,699.3 L1236.9,696.9 L1237.2,694.6 L1237.6,692.2 L1238,689.9 L1238.3,687.5 L1238.6,685.2 L1238.9,682.8 L1239.3,680.5 L1239.5,678.1 L1239.8,675.8 L1240,673.4 L1240.3,671.1 L1240.5,668.7 L1240.6,666.4 L1240.8,664 L1240.9,661.5 L1241.1,658.9 L1241.2,656.4 L1241.3,653.9 L1241.4,651.3 L1241.5,648.8Z" fill="#2166ac" fill-opacity="0.4"/>
<path d="M1293.6,625.3 L1293.7,627.8 L1293.8,630.4 L1294,632.9 L1294.1,635.4 L1294.3,638 L1294.5,640.5 L1294.9,642.9 L1295.6,645.2 L1296.4,647.6 L1297.4,650 L1298.6,652.3 L1299.9,654.6 L1301.1,657 L1302.2,659.4 L1303.3,661.7 L1304.4,664 L1305.3,666.4 L1306.2,668.8 L1307,671.1 L1307.7,673.4 L1308.2,675.8 L1308.5,678.1 L1308.8,680.5 L1309,682.9 L1309.1,685.2 L1309,687.6 L1308.8,689.9 L1308.5,692.2 L1308.2,694.6 L1307.7,697 L1306.9,699.3 L1306.1,701.6 L1305.4,704 L1304.8,706.4 L1304.3,708.7 L1303.9,711 L1303.5,713.4 L1303.2,715.8 L1303,718.1 L1302.8,720.4 L1302.6,722.8 L1302.4,725.1 L1302.1,727.5 L1301.9,729.9 L1301.6,732.2 L1301.2,734.5 L1300.8,736.9 L1300.3,739.2 L1299.9,741.5 L1299.5,743.9 L1299.1,746.2 L1298.7,748.6 L1298.3,751 L1297.7,753.3 L1297.1,755.6 L1296.4,758 L1295.9,760.3 L1295.5,762.6 L1295.1,765 L1294.8,767.4 L1294.5,769.7 L1294.3,772.1 L1294.1,774.4 L1294,776.8 L1293.9,779.1 L1293.7,781.4 L1293.6,783.8 L1293.6,783.8 L1293.5,781.4 L1293.3,779.1 L1293.2,776.8 L1293.1,774.4 L1292.9,772.1 L1292.7,769.7 L1292.4,767.4 L1292.1,765 L1291.7,762.6 L1291.3,760.3 L1290.8,758 L1290.1,755.6 L1289.5,753.3 L1288.9,751 L1288.5,748.6 L1288.1,746.2 L1287.7,743.9 L1287.3,741.5 L1286.9,739.2 L1286.4,736.9 L1286,734.5 L1285.6,732.2 L1285.3,729.9 L1285.1,727.5 L1284.8,725.1 L1284.6,722.8 L1284.4,720.4 L1284.2,718.1 L1284,715.8 L1283.7,713.4 L1283.3,711 L1282.9,708.7 L1282.4,706.4 L1281.8,704 L1281.1,701.6 L1280.3,699.3 L1279.5,697 L1279,694.6 L1278.7,692.2 L1278.4,689.9 L1278.2,687.6 L1278.1,685.2 L1278.2,682.9 L1278.4,680.5 L1278.7,678.1 L1279,675.8 L1279.5,673.4 L1280.2,671.1 L1281,668.8 L1281.9,666.4 L1282.8,664 L1283.9,661.7 L1285,659.4 L1286.1,657 L1287.3,654.6 L1288.6,652.3 L1289.8,650 L1290.8,647.6 L1291.6,645.2 L1292.3,642.9 L1292.7,640.5 L1292.9,638 L1293.1,635.4 L1293.2,632.9 L1293.4,630.4 L1293.5,627.8 L1293.6,625.3Z" fill="#f46d43" fill-opacity="0.4"/>
<path d="M1371.3,688.3 L1371.5,690.7 L1371.6,693.1 L1371.8,695.5 L1372,697.9 L1372.3,700.3 L1372.8,703 L1373.6,705.7 L1374.3,708.4 L1375,711.1 L1375.7,713.7 L1376.3,716.4 L1376.9,719.1 L1377.5,721.8 L1377.9,724.5 L1378.2,727.2 L1378.4,729.8 L1378.7,732.5 L1379,735.2 L1379.4,737.9 L1379.8,740.6 L1380.5,743.3 L1381.3,746 L1382.3,748.7 L1383.5,751.4 L1384.8,754 L1385.8,756.7 L1386.5,759.7 L1386.9,762.7 L1386.4,765.8 L1385.4,768.8 L1384,771.5 L1382.2,774.1 L1380.3,776.8 L1378.4,779.5 L1376.5,782.3 L1374.9,785 L1373.5,788 L1372.5,791 L1372.1,793.2 L1371.8,795.5 L1371.6,797.8 L1371.3,800 L1371.3,800 L1371,797.8 L1370.8,795.5 L1370.5,793.2 L1370.1,791 L1369.1,788 L1367.7,785 L1366.1,782.3 L1364.2,779.5 L1362.3,776.8 L1360.4,774.1 L1358.6,771.5 L1357.2,768.8 L1356.2,765.8 L1355.7,762.7 L1356.1,759.7 L1356.8,756.7 L1357.8,754 L1359.1,751.4 L1360.3,748.7 L1361.3,746 L1362.1,743.3 L1362.8,740.6 L1363.2,737.9 L1363.6,735.2 L1363.9,732.5 L1364.2,729.8 L1364.4,727.2 L1364.7,724.5 L1365.1,721.8 L1365.7,719.1 L1366.3,716.4 L1366.9,713.7 L1367.6,711.1 L1368.3,708.4 L1369,705.7 L1369.8,703 L1370.3,700.3 L1370.6,697.9 L1370.8,695.5 L1371,693.1 L1371.1,690.7 L1371.3,688.3Z" fill="#1b5a95" fill-opacity="0.4"/>
<path d="M1423.2,671 L1423.3,673.5 L1423.5,676.1 L1423.6,678.6 L1423.7,681.1 L1423.9,683.7 L1424.2,686.2 L1424.9,688.9 L1426,691.6 L1427.2,694.3 L1428.6,697 L1430.2,699.6 L1431.7,702.3 L1433.1,705 L1434.5,707.7 L1435.7,710.4 L1436.7,713.1 L1437.5,715.7 L1438.1,718.4 L1438.6,721.5 L1438.9,724.5 L1438.7,727.2 L1438.3,729.8 L1437.9,732.5 L1437.4,735.2 L1436.9,737.9 L1436.3,740.6 L1435.7,743.1 L1435.1,745.7 L1434.4,748.2 L1433.7,750.7 L1433,753.2 L1432.2,755.7 L1431.4,758.2 L1430.6,760.7 L1429.8,763.2 L1429.1,765.8 L1428.3,768.3 L1427.6,770.8 L1426.8,773.3 L1426.1,775.8 L1425.3,778.4 L1424.8,780.9 L1424.4,783.6 L1424.1,786.3 L1423.8,789 L1423.6,791.8 L1423.5,794.5 L1423.3,797.2 L1423.2,800 L1423.2,800 L1423.1,797.2 L1422.9,794.5 L1422.8,791.8 L1422.6,789 L1422.3,786.3 L1422,783.6 L1421.6,780.9 L1421.1,778.4 L1420.3,775.8 L1419.6,773.3 L1418.8,770.8 L1418.1,768.3 L1417.3,765.8 L1416.6,763.2 L1415.8,760.7 L1415,758.2 L1414.2,755.7 L1413.4,753.2 L1412.7,750.7 L1412,748.2 L1411.3,745.7 L1410.7,743.1 L1410.1,740.6 L1409.5,737.9 L1409,735.2 L1408.5,732.5 L1408.1,729.8 L1407.7,727.2 L1407.5,724.5 L1407.8,721.5 L1408.3,718.4 L1408.9,715.7 L1409.7,713.1 L1410.7,710.4 L1411.9,707.7 L1413.3,705 L1414.7,702.3 L1416.2,699.6 L1417.8,697 L1419.2,694.3 L1420.4,691.6 L1421.5,688.9 L1422.2,686.2 L1422.5,683.7 L1422.7,681.1 L1422.8,678.6 L1422.9,676.1 L1423.1,673.5 L1423.2,671Z" fill="#d6404e" fill-opacity="0.4"/>
<path d="M1501.2,723.8 L1501.4,726.2 L1501.5,728.7 L1501.7,731.1 L1502,733.6 L1503,736.4 L1504.3,739.2 L1505.2,741.5 L1506,743.9 L1506.8,746.2 L1507.6,748.5 L1508.4,750.8 L1509.3,753.1 L1510.2,755.4 L1511.2,757.8 L1512.1,760.1 L1513.1,762.4 L1514,764.8 L1514.9,767.1 L1515.7,769.2 L1516.4,771.3 L1516.7,773.4 L1516.3,775.5 L1515.3,777.6 L1514.1,779.7 L1512.2,782.5 L1509.9,785.3 L1507.6,788.1 L1505.4,790.9 L1503.5,793.7 L1502.3,796.5 L1501.9,799.3 L1501.6,802.1 L1501.4,804.9 L1501.2,807.7 L1501.2,807.7 L1501,804.9 L1500.8,802.1 L1500.5,799.3 L1500.1,796.5 L1498.9,793.7 L1497,790.9 L1494.8,788.1 L1492.5,785.3 L1490.2,782.5 L1488.3,779.7 L1487.1,777.6 L1486.1,775.5 L1485.7,773.4 L1486,771.3 L1486.7,769.2 L1487.5,767.1 L1488.4,764.8 L1489.3,762.4 L1490.3,760.1 L1491.2,757.8 L1492.2,755.4 L1493.1,753.1 L1494,750.8 L1494.8,748.5 L1495.6,746.2 L1496.4,743.9 L1497.2,741.5 L1498.1,739.2 L1499.4,736.4 L1500.4,733.6 L1500.7,731.1 L1500.9,728.7 L1501,726.2 L1501.2,723.8Z" fill="#6257ae" fill-opacity="0.4"/>
<path d="M1553.1,728 L1553.4,730.8 L1553.7,733.6 L1554.2,736.4 L1555.7,739.2 L1558,742 L1560.5,744.8 L1562.9,747.6 L1564.8,750.4 L1566.4,753.1 L1567.5,755.4 L1568.4,757.8 L1568.8,760.1 L1568.5,762.9 L1567.8,765.7 L1566.6,768.5 L1565,771.3 L1563.3,774.1 L1561.5,776.9 L1559.7,779.7 L1558,782.5 L1556.2,785.3 L1554.8,788.1 L1554.1,790.2 L1553.7,792.3 L1553.4,794.6 L1553.3,797 L1553.1,799.3 L1553.1,799.3 L1552.9,797 L1552.8,794.6 L1552.5,792.3 L1552.1,790.2 L1551.4,788.1 L1550,785.3 L1548.2,782.5 L1546.5,779.7 L1544.7,776.9 L1542.9,774.1 L1541.2,771.3 L1539.6,768.5 L1538.4,765.7 L1537.7,762.9 L1537.4,760.1 L1537.8,757.8 L1538.7,755.4 L1539.8,753.1 L1541.4,750.4 L1543.3,747.6 L1545.7,744.8 L1548.2,742 L1550.5,739.2 L1552,736.4 L1552.5,733.6 L1552.8,730.8 L1553.1,728Z" fill="#a50346" fill-opacity="0.4"/>
<circle cx="981.9" cy="663.9" r="9.4" fill="#92c5de"/>
<circle cx="1033.6" cy="589.1" r="9.4" fill="#fdcb96"/>
<circle cx="1111.7" cy="703.1" r="9.4" fill="#4393c3"/>
<circle cx="1163.5" cy="643.7" r="9.4" fill="#fdae61"/>
<circle cx="1241.5" cy="736.1" r="9.4" fill="#2166ac"/>
<circle cx="1293.6" cy="700.8" r="9.4" fill="#f46d43"/>
<circle cx="1371.3" cy="752.1" r="9.4" fill="#1b5a95"/>
<circle cx="1423.2" cy="733.5" r="9.4" fill="#d6404e"/>
<circle cx="1501.2" cy="768.7" r="9.4" fill="#6257ae"/>
<circle cx="1553.1" cy="762.6" r="9.4" fill="#a50346"/>
<rect class="fr" x="930.1" y="464.65" width="674.8" height="368.65"/>
<line class="tm" x1="930.1" y1="788.27" x2="938.7" y2="788.27"/>
<line class="tm" x1="930.1" y1="723.59" x2="938.7" y2="723.59"/>
<line class="tm" x1="930.1" y1="658.9" x2="938.7" y2="658.9"/>
<line class="tm" x1="930.1" y1="594.22" x2="938.7" y2="594.22"/>
<line class="tm" x1="930.1" y1="529.53" x2="938.7" y2="529.53"/>
<text class="tk" transform="translate(922.3 797.67) scale(0.99 1.04)">0</text>
<text class="tk" transform="translate(922.3 732.99) scale(0.99 1.04)">100</text>
<text class="tk" transform="translate(922.3 668.3) scale(0.99 1.04)">200</text>
<text class="tk" transform="translate(922.3 603.62) scale(0.99 1.04)">300</text>
<text class="tk" transform="translate(922.3 538.93) scale(0.99 1.04)">400</text>
<text class="tk" transform="translate(922.3 474.25) scale(0.99 1.04)">500</text>
<text class="yl" transform="translate(861 649.77) rotate(-90) scale(1 1.05)">Numbers of Ramsar sites</text>
<text class="pl" transform="translate(940.5 506.45) scale(1 1.04)">d</text>
<text class="pt" transform="translate(982.4 508.25) scale(1.01 1.07)">RCP 8.5</text>
</g>
<g id="legend">
<text class="lg" transform="translate(106 887.7) scale(1 1.04)">Gain</text>
<circle cx="203.4" cy="880" r="12.3" fill="#92c5de"/>
<text class="lg" transform="translate(226.1 887.8) scale(1 1.03)"><tspan textLength="20.2" lengthAdjust="spacingAndGlyphs">≥</tspan><tspan x="24.5" textLength="41.3" lengthAdjust="spacingAndGlyphs">5%</tspan></text>
<circle cx="315.6" cy="880" r="12.3" fill="#4393c3"/>
<text class="lg" transform="translate(338.3 887.8) scale(1 1.03)"><tspan textLength="20.2" lengthAdjust="spacingAndGlyphs">≥</tspan><tspan x="24.5" textLength="57.2" lengthAdjust="spacingAndGlyphs">10%</tspan></text>
<circle cx="446.3" cy="880" r="12.3" fill="#2166ac"/>
<text class="lg" transform="translate(469 887.8) scale(1 1.03)"><tspan textLength="20.2" lengthAdjust="spacingAndGlyphs">≥</tspan><tspan x="24.5" textLength="57.2" lengthAdjust="spacingAndGlyphs">20%</tspan></text>
<circle cx="576.8" cy="880" r="12.3" fill="#1b5a95"/>
<text class="lg" transform="translate(599.5 887.8) scale(1 1.03)"><tspan textLength="20.2" lengthAdjust="spacingAndGlyphs">≥</tspan><tspan x="24.5" textLength="57.2" lengthAdjust="spacingAndGlyphs">30%</tspan></text>
<circle cx="706.9" cy="880" r="12.3" fill="#6257ae"/>
<text class="lg" transform="translate(729.6 887.8) scale(1 1.03)"><tspan textLength="20.2" lengthAdjust="spacingAndGlyphs">≥</tspan><tspan x="24.5" textLength="57.2" lengthAdjust="spacingAndGlyphs">50%</tspan></text>
<text class="lg" transform="translate(853 887.7) scale(1 1.04)">Loss</text>
<circle cx="952.7" cy="880" r="12.3" fill="#fdcb96"/>
<text class="lg" transform="translate(975.4 887.8) scale(1 1.03)"><tspan textLength="20.2" lengthAdjust="spacingAndGlyphs">≥</tspan><tspan x="24.5" textLength="41.3" lengthAdjust="spacingAndGlyphs">5%</tspan></text>
<circle cx="1064.8" cy="880" r="12.3" fill="#fdae61"/>
<text class="lg" transform="translate(1087.5 887.8) scale(1 1.03)"><tspan textLength="20.2" lengthAdjust="spacingAndGlyphs">≥</tspan><tspan x="24.5" textLength="57.2" lengthAdjust="spacingAndGlyphs">10%</tspan></text>
<circle cx="1194.7" cy="880" r="12.3" fill="#f46d43"/>
<text class="lg" transform="translate(1217.4 887.8) scale(1 1.03)"><tspan textLength="20.2" lengthAdjust="spacingAndGlyphs">≥</tspan><tspan x="24.5" textLength="57.2" lengthAdjust="spacingAndGlyphs">20%</tspan></text>
<circle cx="1324.3" cy="880" r="12.3" fill="#d6404e"/>
<text class="lg" transform="translate(1347 887.8) scale(1 1.03)"><tspan textLength="20.2" lengthAdjust="spacingAndGlyphs">≥</tspan><tspan x="24.5" textLength="57.2" lengthAdjust="spacingAndGlyphs">30%</tspan></text>
<circle cx="1454.3" cy="880" r="12.3" fill="#a50346"/>
<text class="lg" transform="translate(1477 887.8) scale(1 1.03)"><tspan textLength="20.2" lengthAdjust="spacingAndGlyphs">≥</tspan><tspan x="24.5" textLength="57.2" lengthAdjust="spacingAndGlyphs">50%</tspan></text>
</g>
</svg>
</body></html>
